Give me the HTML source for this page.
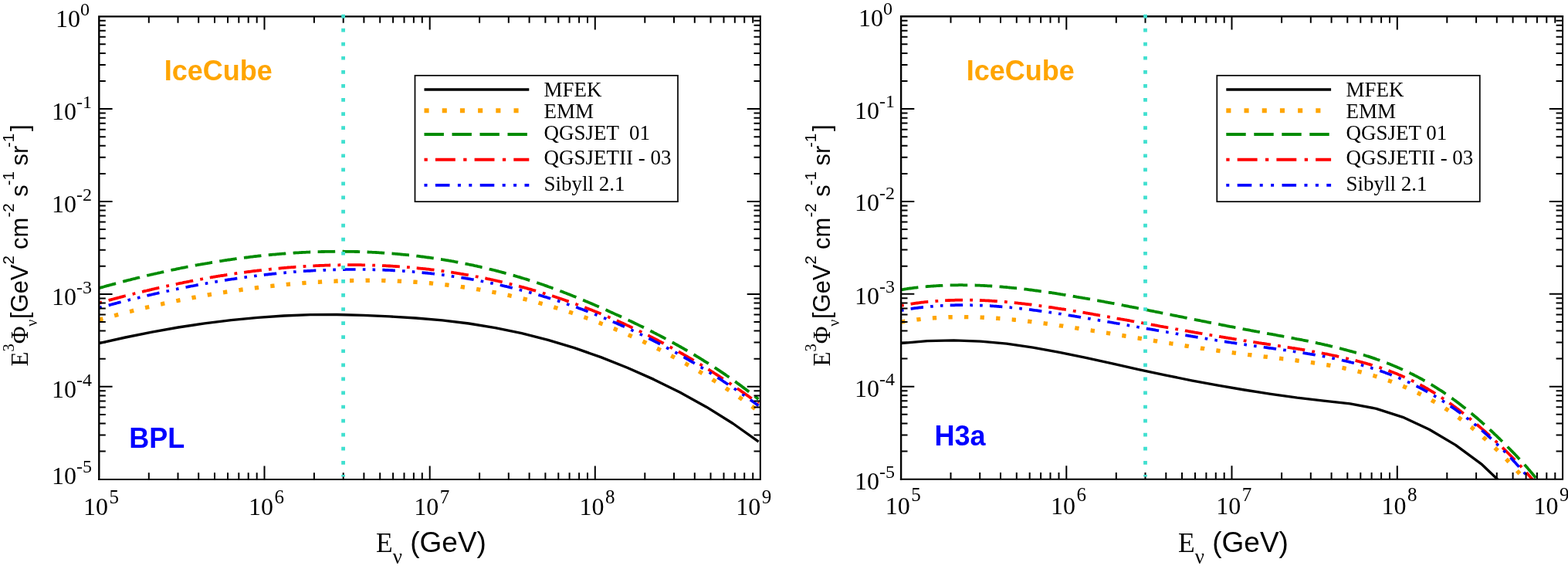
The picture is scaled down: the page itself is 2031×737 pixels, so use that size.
<!DOCTYPE html>
<html><head><meta charset="utf-8"><title>plot</title>
<style>html,body{margin:0;padding:0;background:#fff;overflow:hidden}svg{display:block}</style>
</head><body>
<svg width="2031" height="737" viewBox="0 0 2031 737">
<rect width="2031" height="737" fill="#fff"/>
<defs>
<clipPath id="clipL"><rect x="128.3" y="21.2" width="856.7" height="599.5"/></clipPath>
<clipPath id="clipR"><rect x="1167.0" y="21.2" width="857.0999999999999" height="599.4"/></clipPath>
</defs>
<path d="M128.3,444.7 L162.5,437.0 L196.7,430.1 L230.9,424.0 L265.1,418.9 L299.4,414.6 L333.6,411.3 L367.8,409.0 L402.0,407.7 L436.2,407.5 L470.4,408.3 L504.6,409.9 L538.8,412.0 L573.0,414.8 L607.2,419.0 L641.5,424.6 L675.7,431.7 L709.9,440.4 L744.1,450.7 L778.3,462.6 L812.5,476.2 L846.7,491.4 L880.9,508.3 L915.1,527.2 L949.3,548.5 L982.6,572.1" fill="none" stroke="#000000" stroke-width="3.35" stroke-linejoin="round" clip-path="url(#clipL)"/>
<path d="M128.3,414.3 L129.8,413.9 L131.3,413.4 L132.8,413.0 L134.3,412.6 L135.8,412.2 L137.3,411.8 L138.8,411.3 L140.3,410.9 L141.8,410.5 L143.3,410.1 L144.8,409.7 L146.3,409.3 L147.8,408.9 L149.3,408.5 L150.8,408.1 L152.3,407.7 L153.8,407.3 L155.3,406.9 L156.8,406.5 L158.3,406.1 L159.8,405.7 L161.3,405.3 L162.8,404.9 L164.3,404.5 L165.8,404.1 L167.3,403.7 L168.8,403.4 L170.3,403.0 L171.8,402.6 L173.3,402.2 L174.8,401.9 L176.3,401.5 L177.8,401.1 L179.3,400.7 L180.8,400.4 L182.3,400.0 L183.8,399.6 L185.3,399.3 L186.8,398.9 L188.3,398.6 L189.9,398.2 L191.4,397.9 L192.9,397.5 L194.4,397.2 L195.9,396.8 L197.4,396.5 L198.9,396.1 L200.4,395.8 L201.9,395.4 L203.4,395.1 L204.9,394.8 L206.4,394.4 L207.9,394.1 L209.4,393.8 L210.9,393.4 L212.4,393.1 L213.9,392.8 L215.4,392.5 L216.9,392.1 L218.4,391.8 L219.9,391.5 L221.4,391.2 L222.9,390.9 L224.4,390.6 L225.9,390.2 L227.4,389.9 L228.9,389.6 L230.4,389.3 L231.9,389.0 L233.4,388.7 L234.9,388.4 L236.4,388.1 L237.9,387.8 L239.4,387.5 L240.9,387.2 L242.4,386.9 L243.9,386.7 L245.4,386.4 L246.9,386.1 L248.4,385.8 L249.9,385.5 L251.4,385.2 L252.9,385.0 L254.4,384.7 L255.9,384.4 L257.4,384.1 L258.9,383.9 L260.4,383.6 L261.9,383.3 L263.4,383.1 L264.9,382.8 L266.4,382.5 L267.9,382.3 L269.4,382.0 L270.9,381.8 L272.4,381.5 L273.9,381.2 L275.4,381.0 L276.9,380.7 L278.4,380.5 L279.9,380.2 L281.4,380.0 L282.9,379.8 L284.4,379.5 L285.9,379.3 L287.4,379.0 L288.9,378.8 L290.4,378.6 L291.9,378.3 L293.4,378.1 L294.9,377.9 L296.4,377.6 L297.9,377.4 L299.4,377.2 L300.9,377.0 L302.4,376.7 L303.9,376.5 L305.4,376.3 L306.9,376.1 L308.4,375.9 L309.9,375.7 L311.5,375.5 L313.0,375.2 L314.5,375.0 L316.0,374.8 L317.5,374.6 L319.0,374.4 L320.5,374.2 L322.0,374.0 L323.5,373.8 L325.0,373.6 L326.5,373.4 L328.0,373.2 L329.5,373.1 L331.0,372.9 L332.5,372.7 L334.0,372.5 L335.5,372.3 L337.0,372.1 L338.5,372.0 L340.0,371.8 L341.5,371.6 L343.0,371.4 L344.5,371.2 L346.0,371.1 L347.5,370.9 L349.0,370.7 L350.5,370.6 L352.0,370.4 L353.5,370.2 L355.0,370.1 L356.5,369.9 L358.0,369.8 L359.5,369.6 L361.0,369.5 L362.5,369.3 L364.0,369.1 L365.5,369.0 L367.0,368.8 L368.5,368.7 L370.0,368.6 L371.5,368.4 L373.0,368.3 L374.5,368.1 L376.0,368.0 L377.5,367.9 L379.0,367.7 L380.5,367.6 L382.0,367.5 L383.5,367.3 L385.0,367.2 L386.5,367.1 L388.0,367.0 L389.5,366.8 L391.0,366.7 L392.5,366.6 L394.0,366.5 L395.5,366.4 L397.0,366.3 L398.5,366.2 L400.0,366.0 L401.5,365.9 L403.0,365.8 L404.5,365.7 L406.0,365.6 L407.5,365.5 L409.0,365.4 L410.5,365.3 L412.0,365.3 L413.5,365.2 L415.0,365.1 L416.5,365.0 L418.0,364.9 L419.5,364.8 L421.0,364.7 L422.5,364.7 L424.0,364.6 L425.5,364.5 L427.0,364.4 L428.5,364.4 L430.0,364.3 L431.5,364.2 L433.0,364.2 L434.6,364.1 L436.1,364.0 L437.6,364.0 L439.1,363.9 L440.6,363.9 L442.1,363.8 L443.6,363.8 L445.1,363.7 L446.6,363.7 L448.1,363.6 L449.6,363.6 L451.1,363.6 L452.6,363.5 L454.1,363.5 L455.6,363.5 L457.1,363.4 L458.6,363.4 L460.1,363.4 L461.6,363.4 L463.1,363.3 L464.6,363.3 L466.1,363.3 L467.6,363.3 L469.1,363.3 L470.6,363.3 L472.1,363.3 L473.6,363.2 L475.1,363.2 L476.6,363.2 L478.1,363.2 L479.6,363.2 L481.1,363.3 L482.6,363.3 L484.1,363.3 L485.6,363.3 L487.1,363.3 L488.6,363.3 L490.1,363.3 L491.6,363.4 L493.1,363.4 L494.6,363.4 L496.1,363.4 L497.6,363.5 L499.1,363.5 L500.6,363.6 L502.1,363.6 L503.6,363.6 L505.1,363.7 L506.6,363.7 L508.1,363.8 L509.6,363.8 L511.1,363.9 L512.6,363.9 L514.1,364.0 L515.6,364.1 L517.1,364.1 L518.6,364.2 L520.1,364.3 L521.6,364.3 L523.1,364.4 L524.6,364.5 L526.1,364.6 L527.6,364.6 L529.1,364.7 L530.6,364.8 L532.1,364.9 L533.6,365.0 L535.1,365.1 L536.6,365.2 L538.1,365.3 L539.6,365.4 L541.1,365.5 L542.6,365.6 L544.1,365.7 L545.6,365.8 L547.1,366.0 L548.6,366.1 L550.1,366.2 L551.6,366.3 L553.1,366.4 L554.6,366.6 L556.2,366.7 L557.7,366.8 L559.2,367.0 L560.7,367.1 L562.2,367.3 L563.7,367.4 L565.2,367.6 L566.7,367.7 L568.2,367.9 L569.7,368.0 L571.2,368.2 L572.7,368.3 L574.2,368.5 L575.7,368.7 L577.2,368.9 L578.7,369.0 L580.2,369.2 L581.7,369.4 L583.2,369.6 L584.7,369.8 L586.2,369.9 L587.7,370.1 L589.2,370.3 L590.7,370.5 L592.2,370.7 L593.7,370.9 L595.2,371.1 L596.7,371.3 L598.2,371.6 L599.7,371.8 L601.2,372.0 L602.7,372.2 L604.2,372.4 L605.7,372.7 L607.2,372.9 L608.7,373.1 L610.2,373.3 L611.7,373.6 L613.2,373.8 L614.7,374.1 L616.2,374.3 L617.7,374.6 L619.2,374.8 L620.7,375.1 L622.2,375.3 L623.7,375.6 L625.2,375.8 L626.7,376.1 L628.2,376.4 L629.7,376.7 L631.2,376.9 L632.7,377.2 L634.2,377.5 L635.7,377.8 L637.2,378.1 L638.7,378.4 L640.2,378.6 L641.7,378.9 L643.2,379.2 L644.7,379.5 L646.2,379.9 L647.7,380.2 L649.2,380.5 L650.7,380.8 L652.2,381.1 L653.7,381.4 L655.2,381.7 L656.7,382.1 L658.2,382.4 L659.7,382.7 L661.2,383.1 L662.7,383.4 L664.2,383.8 L665.7,384.1 L667.2,384.4 L668.7,384.8 L670.2,385.1 L671.7,385.5 L673.2,385.9 L674.7,386.2 L676.2,386.6 L677.8,387.0 L679.3,387.3 L680.8,387.7 L682.3,388.1 L683.8,388.5 L685.3,388.9 L686.8,389.2 L688.3,389.6 L689.8,390.0 L691.3,390.4 L692.8,390.8 L694.3,391.2 L695.8,391.6 L697.3,392.0 L698.8,392.5 L700.3,392.9 L701.8,393.3 L703.3,393.7 L704.8,394.1 L706.3,394.6 L707.8,395.0 L709.3,395.4 L710.8,395.9 L712.3,396.3 L713.8,396.7 L715.3,397.2 L716.8,397.6 L718.3,398.1 L719.8,398.6 L721.3,399.0 L722.8,399.5 L724.3,399.9 L725.8,400.4 L727.3,400.9 L728.8,401.4 L730.3,401.8 L731.8,402.3 L733.3,402.8 L734.8,403.3 L736.3,403.8 L737.8,404.3 L739.3,404.8 L740.8,405.3 L742.3,405.8 L743.8,406.3 L745.3,406.8 L746.8,407.3 L748.3,407.8 L749.8,408.4 L751.3,408.9 L752.8,409.4 L754.3,409.9 L755.8,410.5 L757.3,411.0 L758.8,411.5 L760.3,412.1 L761.8,412.6 L763.3,413.2 L764.8,413.7 L766.3,414.3 L767.8,414.9 L769.3,415.4 L770.8,416.0 L772.3,416.6 L773.8,417.1 L775.3,417.7 L776.8,418.3 L778.3,418.9 L779.8,419.5 L781.3,420.0 L782.8,420.6 L784.3,421.2 L785.8,421.8 L787.3,422.4 L788.8,423.0 L790.3,423.6 L791.8,424.3 L793.3,424.9 L794.8,425.5 L796.3,426.1 L797.8,426.7 L799.3,427.4 L800.9,428.0 L802.4,428.6 L803.9,429.3 L805.4,429.9 L806.9,430.6 L808.4,431.2 L809.9,431.9 L811.4,432.5 L812.9,433.2 L814.4,433.9 L815.9,434.5 L817.4,435.2 L818.9,435.9 L820.4,436.5 L821.9,437.2 L823.4,437.9 L824.9,438.6 L826.4,439.3 L827.9,440.0 L829.4,440.7 L830.9,441.4 L832.4,442.1 L833.9,442.8 L835.4,443.5 L836.9,444.2 L838.4,445.0 L839.9,445.7 L841.4,446.4 L842.9,447.1 L844.4,447.9 L845.9,448.6 L847.4,449.4 L848.9,450.1 L850.4,450.9 L851.9,451.6 L853.4,452.4 L854.9,453.1 L856.4,453.9 L857.9,454.7 L859.4,455.4 L860.9,456.2 L862.4,457.0 L863.9,457.8 L865.4,458.6 L866.9,459.4 L868.4,460.2 L869.9,461.0 L871.4,461.8 L872.9,462.6 L874.4,463.4 L875.9,464.2 L877.4,465.0 L878.9,465.8 L880.4,466.7 L881.9,467.5 L883.4,468.3 L884.9,469.2 L886.4,470.0 L887.9,470.8 L889.4,471.7 L890.9,472.6 L892.4,473.4 L893.9,474.3 L895.4,475.1 L896.9,476.0 L898.4,476.9 L899.9,477.8 L901.4,478.6 L902.9,479.5 L904.4,480.4 L905.9,481.3 L907.4,482.2 L908.9,483.1 L910.4,484.0 L911.9,484.9 L913.4,485.9 L914.9,486.8 L916.4,487.7 L917.9,488.6 L919.4,489.6 L920.9,490.5 L922.5,491.4 L924.0,492.4 L925.5,493.3 L927.0,494.3 L928.5,495.2 L930.0,496.2 L931.5,497.2 L933.0,498.1 L934.5,499.1 L936.0,500.1 L937.5,501.1 L939.0,502.1 L940.5,503.1 L942.0,504.0 L943.5,505.1 L945.0,506.1 L946.5,507.1 L948.0,508.1 L949.5,509.1 L951.0,510.1 L952.5,511.1 L954.0,512.2 L955.5,513.2 L957.0,514.3 L958.5,515.3 L960.0,516.3 L961.5,517.4 L963.0,518.5 L964.5,519.5 L966.0,520.6 L967.5,521.7 L969.0,522.7 L970.5,523.8 L972.0,524.9 L973.5,526.0 L975.0,527.1 L976.5,528.2 L978.0,529.3 L979.5,530.4 L981.0,531.5 L982.5,532.6" fill="none" stroke="#FFA500" stroke-width="5.4" stroke-linejoin="round" stroke-dasharray="5.3 15.3" clip-path="url(#clipL)"/>
<path d="M128.3,373.2 L129.8,372.7 L131.3,372.3 L132.8,371.9 L134.3,371.5 L135.8,371.0 L137.3,370.6 L138.8,370.2 L140.3,369.8 L141.8,369.4 L143.3,369.0 L144.8,368.6 L146.3,368.2 L147.8,367.8 L149.3,367.4 L150.8,367.0 L152.3,366.6 L153.8,366.2 L155.3,365.8 L156.8,365.4 L158.3,365.0 L159.8,364.6 L161.3,364.2 L162.8,363.8 L164.3,363.4 L165.8,363.0 L167.3,362.6 L168.8,362.3 L170.3,361.9 L171.8,361.5 L173.3,361.1 L174.8,360.8 L176.3,360.4 L177.8,360.0 L179.3,359.6 L180.8,359.3 L182.3,358.9 L183.8,358.5 L185.3,358.2 L186.8,357.8 L188.3,357.5 L189.9,357.1 L191.4,356.7 L192.9,356.4 L194.4,356.0 L195.9,355.7 L197.4,355.3 L198.9,355.0 L200.4,354.7 L201.9,354.3 L203.4,354.0 L204.9,353.6 L206.4,353.3 L207.9,353.0 L209.4,352.6 L210.9,352.3 L212.4,352.0 L213.9,351.6 L215.4,351.3 L216.9,351.0 L218.4,350.7 L219.9,350.3 L221.4,350.0 L222.9,349.7 L224.4,349.4 L225.9,349.1 L227.4,348.8 L228.9,348.4 L230.4,348.1 L231.9,347.8 L233.4,347.5 L234.9,347.2 L236.4,346.9 L237.9,346.6 L239.4,346.3 L240.9,346.0 L242.4,345.7 L243.9,345.5 L245.4,345.2 L246.9,344.9 L248.4,344.6 L249.9,344.3 L251.4,344.0 L252.9,343.7 L254.4,343.5 L255.9,343.2 L257.4,342.9 L258.9,342.7 L260.4,342.4 L261.9,342.1 L263.4,341.8 L264.9,341.6 L266.4,341.3 L267.9,341.1 L269.4,340.8 L270.9,340.6 L272.4,340.3 L273.9,340.0 L275.4,339.8 L276.9,339.6 L278.4,339.3 L279.9,339.1 L281.4,338.8 L282.9,338.6 L284.4,338.3 L285.9,338.1 L287.4,337.9 L288.9,337.6 L290.4,337.4 L291.9,337.2 L293.4,337.0 L294.9,336.7 L296.4,336.5 L297.9,336.3 L299.4,336.1 L300.9,335.9 L302.4,335.7 L303.9,335.5 L305.4,335.2 L306.9,335.0 L308.4,334.8 L309.9,334.6 L311.5,334.4 L313.0,334.2 L314.5,334.0 L316.0,333.8 L317.5,333.7 L319.0,333.5 L320.5,333.3 L322.0,333.1 L323.5,332.9 L325.0,332.7 L326.5,332.6 L328.0,332.4 L329.5,332.2 L331.0,332.0 L332.5,331.9 L334.0,331.7 L335.5,331.5 L337.0,331.4 L338.5,331.2 L340.0,331.1 L341.5,330.9 L343.0,330.7 L344.5,330.6 L346.0,330.4 L347.5,330.3 L349.0,330.1 L350.5,330.0 L352.0,329.9 L353.5,329.7 L355.0,329.6 L356.5,329.5 L358.0,329.3 L359.5,329.2 L361.0,329.1 L362.5,328.9 L364.0,328.8 L365.5,328.7 L367.0,328.6 L368.5,328.5 L370.0,328.4 L371.5,328.2 L373.0,328.1 L374.5,328.0 L376.0,327.9 L377.5,327.8 L379.0,327.7 L380.5,327.6 L382.0,327.5 L383.5,327.4 L385.0,327.4 L386.5,327.3 L388.0,327.2 L389.5,327.1 L391.0,327.0 L392.5,326.9 L394.0,326.9 L395.5,326.8 L397.0,326.7 L398.5,326.7 L400.0,326.6 L401.5,326.5 L403.0,326.5 L404.5,326.4 L406.0,326.4 L407.5,326.3 L409.0,326.2 L410.5,326.2 L412.0,326.2 L413.5,326.1 L415.0,326.1 L416.5,326.0 L418.0,326.0 L419.5,326.0 L421.0,325.9 L422.5,325.9 L424.0,325.9 L425.5,325.8 L427.0,325.8 L428.5,325.8 L430.0,325.8 L431.5,325.8 L433.0,325.8 L434.6,325.7 L436.1,325.7 L437.6,325.7 L439.1,325.7 L440.6,325.7 L442.1,325.7 L443.6,325.7 L445.1,325.7 L446.6,325.8 L448.1,325.8 L449.6,325.8 L451.1,325.8 L452.6,325.8 L454.1,325.9 L455.6,325.9 L457.1,325.9 L458.6,325.9 L460.1,326.0 L461.6,326.0 L463.1,326.0 L464.6,326.1 L466.1,326.1 L467.6,326.2 L469.1,326.2 L470.6,326.3 L472.1,326.3 L473.6,326.4 L475.1,326.4 L476.6,326.5 L478.1,326.6 L479.6,326.6 L481.1,326.7 L482.6,326.8 L484.1,326.9 L485.6,326.9 L487.1,327.0 L488.6,327.1 L490.1,327.2 L491.6,327.3 L493.1,327.4 L494.6,327.5 L496.1,327.6 L497.6,327.7 L499.1,327.8 L500.6,327.9 L502.1,328.0 L503.6,328.1 L505.1,328.2 L506.6,328.3 L508.1,328.4 L509.6,328.6 L511.1,328.7 L512.6,328.8 L514.1,328.9 L515.6,329.1 L517.1,329.2 L518.6,329.3 L520.1,329.5 L521.6,329.6 L523.1,329.8 L524.6,329.9 L526.1,330.1 L527.6,330.2 L529.1,330.4 L530.6,330.5 L532.1,330.7 L533.6,330.9 L535.1,331.0 L536.6,331.2 L538.1,331.4 L539.6,331.6 L541.1,331.7 L542.6,331.9 L544.1,332.1 L545.6,332.3 L547.1,332.5 L548.6,332.7 L550.1,332.9 L551.6,333.1 L553.1,333.3 L554.6,333.5 L556.2,333.7 L557.7,333.9 L559.2,334.1 L560.7,334.3 L562.2,334.5 L563.7,334.8 L565.2,335.0 L566.7,335.2 L568.2,335.4 L569.7,335.7 L571.2,335.9 L572.7,336.2 L574.2,336.4 L575.7,336.6 L577.2,336.9 L578.7,337.1 L580.2,337.4 L581.7,337.7 L583.2,337.9 L584.7,338.2 L586.2,338.4 L587.7,338.7 L589.2,339.0 L590.7,339.3 L592.2,339.5 L593.7,339.8 L595.2,340.1 L596.7,340.4 L598.2,340.7 L599.7,341.0 L601.2,341.3 L602.7,341.6 L604.2,341.9 L605.7,342.2 L607.2,342.5 L608.7,342.8 L610.2,343.1 L611.7,343.4 L613.2,343.7 L614.7,344.1 L616.2,344.4 L617.7,344.7 L619.2,345.1 L620.7,345.4 L622.2,345.7 L623.7,346.1 L625.2,346.4 L626.7,346.8 L628.2,347.1 L629.7,347.5 L631.2,347.8 L632.7,348.2 L634.2,348.6 L635.7,348.9 L637.2,349.3 L638.7,349.7 L640.2,350.0 L641.7,350.4 L643.2,350.8 L644.7,351.2 L646.2,351.6 L647.7,352.0 L649.2,352.4 L650.7,352.8 L652.2,353.2 L653.7,353.6 L655.2,354.0 L656.7,354.4 L658.2,354.8 L659.7,355.2 L661.2,355.7 L662.7,356.1 L664.2,356.5 L665.7,356.9 L667.2,357.4 L668.7,357.8 L670.2,358.3 L671.7,358.7 L673.2,359.1 L674.7,359.6 L676.2,360.1 L677.8,360.5 L679.3,361.0 L680.8,361.4 L682.3,361.9 L683.8,362.4 L685.3,362.9 L686.8,363.3 L688.3,363.8 L689.8,364.3 L691.3,364.8 L692.8,365.3 L694.3,365.8 L695.8,366.3 L697.3,366.8 L698.8,367.3 L700.3,367.8 L701.8,368.3 L703.3,368.8 L704.8,369.3 L706.3,369.9 L707.8,370.4 L709.3,370.9 L710.8,371.5 L712.3,372.0 L713.8,372.5 L715.3,373.1 L716.8,373.6 L718.3,374.2 L719.8,374.7 L721.3,375.3 L722.8,375.8 L724.3,376.4 L725.8,377.0 L727.3,377.5 L728.8,378.1 L730.3,378.7 L731.8,379.3 L733.3,379.8 L734.8,380.4 L736.3,381.0 L737.8,381.6 L739.3,382.2 L740.8,382.8 L742.3,383.4 L743.8,384.0 L745.3,384.6 L746.8,385.2 L748.3,385.8 L749.8,386.4 L751.3,387.0 L752.8,387.7 L754.3,388.3 L755.8,388.9 L757.3,389.5 L758.8,390.2 L760.3,390.8 L761.8,391.4 L763.3,392.1 L764.8,392.7 L766.3,393.3 L767.8,394.0 L769.3,394.6 L770.8,395.3 L772.3,395.9 L773.8,396.6 L775.3,397.2 L776.8,397.9 L778.3,398.5 L779.8,399.2 L781.3,399.9 L782.8,400.5 L784.3,401.2 L785.8,401.8 L787.3,402.5 L788.8,403.2 L790.3,403.9 L791.8,404.5 L793.3,405.2 L794.8,405.9 L796.3,406.6 L797.8,407.3 L799.3,407.9 L800.9,408.6 L802.4,409.3 L803.9,410.0 L805.4,410.7 L806.9,411.4 L808.4,412.1 L809.9,412.8 L811.4,413.5 L812.9,414.2 L814.4,414.9 L815.9,415.6 L817.4,416.3 L818.9,417.0 L820.4,417.7 L821.9,418.5 L823.4,419.2 L824.9,419.9 L826.4,420.6 L827.9,421.4 L829.4,422.1 L830.9,422.8 L832.4,423.5 L833.9,424.3 L835.4,425.0 L836.9,425.8 L838.4,426.5 L839.9,427.3 L841.4,428.0 L842.9,428.8 L844.4,429.5 L845.9,430.3 L847.4,431.1 L848.9,431.8 L850.4,432.6 L851.9,433.4 L853.4,434.1 L854.9,434.9 L856.4,435.7 L857.9,436.5 L859.4,437.3 L860.9,438.1 L862.4,438.9 L863.9,439.7 L865.4,440.5 L866.9,441.3 L868.4,442.1 L869.9,442.9 L871.4,443.7 L872.9,444.5 L874.4,445.4 L875.9,446.2 L877.4,447.0 L878.9,447.9 L880.4,448.7 L881.9,449.5 L883.4,450.4 L884.9,451.2 L886.4,452.1 L887.9,453.0 L889.4,453.8 L890.9,454.7 L892.4,455.6 L893.9,456.4 L895.4,457.3 L896.9,458.2 L898.4,459.1 L899.9,460.0 L901.4,460.9 L902.9,461.8 L904.4,462.7 L905.9,463.6 L907.4,464.5 L908.9,465.5 L910.4,466.4 L911.9,467.3 L913.4,468.3 L914.9,469.2 L916.4,470.1 L917.9,471.1 L919.4,472.1 L920.9,473.0 L922.5,474.0 L924.0,474.9 L925.5,475.9 L927.0,476.9 L928.5,477.9 L930.0,478.9 L931.5,479.9 L933.0,480.9 L934.5,481.9 L936.0,482.9 L937.5,483.9 L939.0,484.9 L940.5,486.0 L942.0,487.0 L943.5,488.0 L945.0,489.1 L946.5,490.1 L948.0,491.2 L949.5,492.3 L951.0,493.3 L952.5,494.4 L954.0,495.5 L955.5,496.6 L957.0,497.6 L958.5,498.7 L960.0,499.8 L961.5,501.0 L963.0,502.1 L964.5,503.2 L966.0,504.3 L967.5,505.5 L969.0,506.6 L970.5,507.7 L972.0,508.9 L973.5,510.0 L975.0,511.2 L976.5,512.4 L978.0,513.6 L979.5,514.7 L981.0,515.9 L982.5,517.1" fill="none" stroke="#008B00" stroke-width="3.8" stroke-linejoin="round" stroke-dasharray="22.6 9.4" clip-path="url(#clipL)"/>
<path d="M128.3,392.4 L129.8,392.0 L131.3,391.6 L132.8,391.2 L134.3,390.7 L135.8,390.3 L137.3,389.9 L138.8,389.5 L140.3,389.1 L141.8,388.7 L143.3,388.3 L144.8,387.9 L146.3,387.5 L147.8,387.1 L149.3,386.7 L150.8,386.3 L152.3,385.9 L153.8,385.5 L155.3,385.1 L156.8,384.7 L158.3,384.3 L159.8,383.9 L161.3,383.5 L162.8,383.2 L164.3,382.8 L165.8,382.4 L167.3,382.0 L168.8,381.6 L170.3,381.2 L171.8,380.9 L173.3,380.5 L174.8,380.1 L176.3,379.8 L177.8,379.4 L179.3,379.0 L180.8,378.6 L182.3,378.3 L183.8,377.9 L185.3,377.6 L186.8,377.2 L188.3,376.8 L189.9,376.5 L191.4,376.1 L192.9,375.8 L194.4,375.4 L195.9,375.1 L197.4,374.7 L198.9,374.4 L200.4,374.0 L201.9,373.7 L203.4,373.3 L204.9,373.0 L206.4,372.7 L207.9,372.3 L209.4,372.0 L210.9,371.7 L212.4,371.3 L213.9,371.0 L215.4,370.7 L216.9,370.3 L218.4,370.0 L219.9,369.7 L221.4,369.4 L222.9,369.1 L224.4,368.7 L225.9,368.4 L227.4,368.1 L228.9,367.8 L230.4,367.5 L231.9,367.2 L233.4,366.9 L234.9,366.6 L236.4,366.3 L237.9,365.9 L239.4,365.6 L240.9,365.4 L242.4,365.1 L243.9,364.8 L245.4,364.5 L246.9,364.2 L248.4,363.9 L249.9,363.6 L251.4,363.3 L252.9,363.0 L254.4,362.7 L255.9,362.5 L257.4,362.2 L258.9,361.9 L260.4,361.6 L261.9,361.4 L263.4,361.1 L264.9,360.8 L266.4,360.5 L267.9,360.3 L269.4,360.0 L270.9,359.8 L272.4,359.5 L273.9,359.2 L275.4,359.0 L276.9,358.7 L278.4,358.5 L279.9,358.2 L281.4,358.0 L282.9,357.7 L284.4,357.5 L285.9,357.2 L287.4,357.0 L288.9,356.8 L290.4,356.5 L291.9,356.3 L293.4,356.0 L294.9,355.8 L296.4,355.6 L297.9,355.4 L299.4,355.1 L300.9,354.9 L302.4,354.7 L303.9,354.5 L305.4,354.2 L306.9,354.0 L308.4,353.8 L309.9,353.6 L311.5,353.4 L313.0,353.2 L314.5,353.0 L316.0,352.8 L317.5,352.6 L319.0,352.4 L320.5,352.2 L322.0,352.0 L323.5,351.8 L325.0,351.6 L326.5,351.4 L328.0,351.2 L329.5,351.0 L331.0,350.8 L332.5,350.7 L334.0,350.5 L335.5,350.3 L337.0,350.1 L338.5,350.0 L340.0,349.8 L341.5,349.6 L343.0,349.4 L344.5,349.3 L346.0,349.1 L347.5,349.0 L349.0,348.8 L350.5,348.6 L352.0,348.5 L353.5,348.3 L355.0,348.2 L356.5,348.0 L358.0,347.9 L359.5,347.7 L361.0,347.6 L362.5,347.5 L364.0,347.3 L365.5,347.2 L367.0,347.1 L368.5,346.9 L370.0,346.8 L371.5,346.7 L373.0,346.5 L374.5,346.4 L376.0,346.3 L377.5,346.2 L379.0,346.1 L380.5,346.0 L382.0,345.8 L383.5,345.7 L385.0,345.6 L386.5,345.5 L388.0,345.4 L389.5,345.3 L391.0,345.2 L392.5,345.1 L394.0,345.0 L395.5,344.9 L397.0,344.8 L398.5,344.8 L400.0,344.7 L401.5,344.6 L403.0,344.5 L404.5,344.4 L406.0,344.4 L407.5,344.3 L409.0,344.2 L410.5,344.1 L412.0,344.1 L413.5,344.0 L415.0,343.9 L416.5,343.9 L418.0,343.8 L419.5,343.8 L421.0,343.7 L422.5,343.7 L424.0,343.6 L425.5,343.6 L427.0,343.5 L428.5,343.5 L430.0,343.4 L431.5,343.4 L433.0,343.4 L434.6,343.3 L436.1,343.3 L437.6,343.3 L439.1,343.3 L440.6,343.2 L442.1,343.2 L443.6,343.2 L445.1,343.2 L446.6,343.2 L448.1,343.2 L449.6,343.1 L451.1,343.1 L452.6,343.1 L454.1,343.1 L455.6,343.1 L457.1,343.1 L458.6,343.1 L460.1,343.2 L461.6,343.2 L463.1,343.2 L464.6,343.2 L466.1,343.2 L467.6,343.2 L469.1,343.3 L470.6,343.3 L472.1,343.3 L473.6,343.3 L475.1,343.4 L476.6,343.4 L478.1,343.4 L479.6,343.5 L481.1,343.5 L482.6,343.6 L484.1,343.6 L485.6,343.7 L487.1,343.7 L488.6,343.8 L490.1,343.8 L491.6,343.9 L493.1,344.0 L494.6,344.0 L496.1,344.1 L497.6,344.2 L499.1,344.2 L500.6,344.3 L502.1,344.4 L503.6,344.5 L505.1,344.5 L506.6,344.6 L508.1,344.7 L509.6,344.8 L511.1,344.9 L512.6,345.0 L514.1,345.1 L515.6,345.2 L517.1,345.3 L518.6,345.4 L520.1,345.5 L521.6,345.6 L523.1,345.7 L524.6,345.9 L526.1,346.0 L527.6,346.1 L529.1,346.2 L530.6,346.3 L532.1,346.5 L533.6,346.6 L535.1,346.7 L536.6,346.9 L538.1,347.0 L539.6,347.2 L541.1,347.3 L542.6,347.5 L544.1,347.6 L545.6,347.8 L547.1,347.9 L548.6,348.1 L550.1,348.2 L551.6,348.4 L553.1,348.6 L554.6,348.7 L556.2,348.9 L557.7,349.1 L559.2,349.3 L560.7,349.4 L562.2,349.6 L563.7,349.8 L565.2,350.0 L566.7,350.2 L568.2,350.4 L569.7,350.6 L571.2,350.8 L572.7,351.0 L574.2,351.2 L575.7,351.4 L577.2,351.6 L578.7,351.8 L580.2,352.0 L581.7,352.3 L583.2,352.5 L584.7,352.7 L586.2,352.9 L587.7,353.2 L589.2,353.4 L590.7,353.6 L592.2,353.9 L593.7,354.1 L595.2,354.3 L596.7,354.6 L598.2,354.8 L599.7,355.1 L601.2,355.4 L602.7,355.6 L604.2,355.9 L605.7,356.1 L607.2,356.4 L608.7,356.7 L610.2,356.9 L611.7,357.2 L613.2,357.5 L614.7,357.8 L616.2,358.1 L617.7,358.3 L619.2,358.6 L620.7,358.9 L622.2,359.2 L623.7,359.5 L625.2,359.8 L626.7,360.1 L628.2,360.4 L629.7,360.7 L631.2,361.1 L632.7,361.4 L634.2,361.7 L635.7,362.0 L637.2,362.3 L638.7,362.7 L640.2,363.0 L641.7,363.3 L643.2,363.7 L644.7,364.0 L646.2,364.3 L647.7,364.7 L649.2,365.0 L650.7,365.4 L652.2,365.7 L653.7,366.1 L655.2,366.5 L656.7,366.8 L658.2,367.2 L659.7,367.6 L661.2,367.9 L662.7,368.3 L664.2,368.7 L665.7,369.1 L667.2,369.4 L668.7,369.8 L670.2,370.2 L671.7,370.6 L673.2,371.0 L674.7,371.4 L676.2,371.8 L677.8,372.2 L679.3,372.6 L680.8,373.0 L682.3,373.4 L683.8,373.9 L685.3,374.3 L686.8,374.7 L688.3,375.1 L689.8,375.6 L691.3,376.0 L692.8,376.4 L694.3,376.9 L695.8,377.3 L697.3,377.8 L698.8,378.2 L700.3,378.7 L701.8,379.1 L703.3,379.6 L704.8,380.0 L706.3,380.5 L707.8,381.0 L709.3,381.4 L710.8,381.9 L712.3,382.4 L713.8,382.9 L715.3,383.3 L716.8,383.8 L718.3,384.3 L719.8,384.8 L721.3,385.3 L722.8,385.8 L724.3,386.3 L725.8,386.8 L727.3,387.3 L728.8,387.8 L730.3,388.3 L731.8,388.8 L733.3,389.4 L734.8,389.9 L736.3,390.4 L737.8,390.9 L739.3,391.5 L740.8,392.0 L742.3,392.5 L743.8,393.1 L745.3,393.6 L746.8,394.2 L748.3,394.7 L749.8,395.3 L751.3,395.8 L752.8,396.4 L754.3,397.0 L755.8,397.5 L757.3,398.1 L758.8,398.7 L760.3,399.3 L761.8,399.8 L763.3,400.4 L764.8,401.0 L766.3,401.6 L767.8,402.2 L769.3,402.8 L770.8,403.4 L772.3,404.0 L773.8,404.6 L775.3,405.2 L776.8,405.8 L778.3,406.4 L779.8,407.1 L781.3,407.7 L782.8,408.3 L784.3,408.9 L785.8,409.6 L787.3,410.2 L788.8,410.9 L790.3,411.5 L791.8,412.1 L793.3,412.8 L794.8,413.5 L796.3,414.1 L797.8,414.8 L799.3,415.4 L800.9,416.1 L802.4,416.8 L803.9,417.4 L805.4,418.1 L806.9,418.8 L808.4,419.5 L809.9,420.2 L811.4,420.9 L812.9,421.6 L814.4,422.3 L815.9,423.0 L817.4,423.7 L818.9,424.4 L820.4,425.1 L821.9,425.8 L823.4,426.5 L824.9,427.2 L826.4,427.9 L827.9,428.7 L829.4,429.4 L830.9,430.1 L832.4,430.9 L833.9,431.6 L835.4,432.4 L836.9,433.1 L838.4,433.9 L839.9,434.6 L841.4,435.4 L842.9,436.1 L844.4,436.9 L845.9,437.7 L847.4,438.5 L848.9,439.2 L850.4,440.0 L851.9,440.8 L853.4,441.6 L854.9,442.4 L856.4,443.2 L857.9,444.0 L859.4,444.8 L860.9,445.6 L862.4,446.4 L863.9,447.2 L865.4,448.0 L866.9,448.8 L868.4,449.6 L869.9,450.5 L871.4,451.3 L872.9,452.1 L874.4,453.0 L875.9,453.8 L877.4,454.6 L878.9,455.5 L880.4,456.3 L881.9,457.2 L883.4,458.0 L884.9,458.9 L886.4,459.8 L887.9,460.6 L889.4,461.5 L890.9,462.4 L892.4,463.3 L893.9,464.1 L895.4,465.0 L896.9,465.9 L898.4,466.8 L899.9,467.7 L901.4,468.6 L902.9,469.5 L904.4,470.4 L905.9,471.3 L907.4,472.2 L908.9,473.2 L910.4,474.1 L911.9,475.0 L913.4,475.9 L914.9,476.9 L916.4,477.8 L917.9,478.7 L919.4,479.7 L920.9,480.6 L922.5,481.6 L924.0,482.5 L925.5,483.5 L927.0,484.5 L928.5,485.4 L930.0,486.4 L931.5,487.4 L933.0,488.4 L934.5,489.3 L936.0,490.3 L937.5,491.3 L939.0,492.3 L940.5,493.3 L942.0,494.3 L943.5,495.3 L945.0,496.3 L946.5,497.3 L948.0,498.3 L949.5,499.3 L951.0,500.4 L952.5,501.4 L954.0,502.4 L955.5,503.5 L957.0,504.5 L958.5,505.5 L960.0,506.6 L961.5,507.6 L963.0,508.7 L964.5,509.7 L966.0,510.8 L967.5,511.9 L969.0,512.9 L970.5,514.0 L972.0,515.1 L973.5,516.1 L975.0,517.2 L976.5,518.3 L978.0,519.4 L979.5,520.5 L981.0,521.6 L982.5,522.7" fill="none" stroke="#FF0000" stroke-width="3.8" stroke-linejoin="round" stroke-dasharray="3.8 8.95 22.9 9.2" clip-path="url(#clipL)"/>
<path d="M128.3,398.7 L129.8,398.3 L131.3,397.9 L132.8,397.5 L134.3,397.1 L135.8,396.7 L137.3,396.3 L138.8,395.9 L140.3,395.5 L141.8,395.1 L143.3,394.7 L144.8,394.3 L146.3,393.9 L147.8,393.5 L149.3,393.1 L150.8,392.7 L152.3,392.3 L153.8,391.9 L155.3,391.5 L156.8,391.2 L158.3,390.8 L159.8,390.4 L161.3,390.0 L162.8,389.6 L164.3,389.3 L165.8,388.9 L167.3,388.5 L168.8,388.1 L170.3,387.8 L171.8,387.4 L173.3,387.0 L174.8,386.7 L176.3,386.3 L177.8,385.9 L179.3,385.6 L180.8,385.2 L182.3,384.8 L183.8,384.5 L185.3,384.1 L186.8,383.8 L188.3,383.4 L189.9,383.1 L191.4,382.7 L192.9,382.4 L194.4,382.0 L195.9,381.7 L197.4,381.3 L198.9,381.0 L200.4,380.6 L201.9,380.3 L203.4,380.0 L204.9,379.6 L206.4,379.3 L207.9,379.0 L209.4,378.6 L210.9,378.3 L212.4,378.0 L213.9,377.6 L215.4,377.3 L216.9,377.0 L218.4,376.7 L219.9,376.3 L221.4,376.0 L222.9,375.7 L224.4,375.4 L225.9,375.1 L227.4,374.8 L228.9,374.5 L230.4,374.1 L231.9,373.8 L233.4,373.5 L234.9,373.2 L236.4,372.9 L237.9,372.6 L239.4,372.3 L240.9,372.0 L242.4,371.7 L243.9,371.4 L245.4,371.1 L246.9,370.8 L248.4,370.5 L249.9,370.3 L251.4,370.0 L252.9,369.7 L254.4,369.4 L255.9,369.1 L257.4,368.8 L258.9,368.6 L260.4,368.3 L261.9,368.0 L263.4,367.7 L264.9,367.5 L266.4,367.2 L267.9,366.9 L269.4,366.7 L270.9,366.4 L272.4,366.1 L273.9,365.9 L275.4,365.6 L276.9,365.4 L278.4,365.1 L279.9,364.9 L281.4,364.6 L282.9,364.4 L284.4,364.1 L285.9,363.9 L287.4,363.6 L288.9,363.4 L290.4,363.1 L291.9,362.9 L293.4,362.7 L294.9,362.4 L296.4,362.2 L297.9,362.0 L299.4,361.7 L300.9,361.5 L302.4,361.3 L303.9,361.1 L305.4,360.8 L306.9,360.6 L308.4,360.4 L309.9,360.2 L311.5,360.0 L313.0,359.7 L314.5,359.5 L316.0,359.3 L317.5,359.1 L319.0,358.9 L320.5,358.7 L322.0,358.5 L323.5,358.3 L325.0,358.1 L326.5,357.9 L328.0,357.7 L329.5,357.5 L331.0,357.3 L332.5,357.2 L334.0,357.0 L335.5,356.8 L337.0,356.6 L338.5,356.4 L340.0,356.3 L341.5,356.1 L343.0,355.9 L344.5,355.7 L346.0,355.6 L347.5,355.4 L349.0,355.2 L350.5,355.1 L352.0,354.9 L353.5,354.7 L355.0,354.6 L356.5,354.4 L358.0,354.3 L359.5,354.1 L361.0,354.0 L362.5,353.8 L364.0,353.7 L365.5,353.5 L367.0,353.4 L368.5,353.3 L370.0,353.1 L371.5,353.0 L373.0,352.9 L374.5,352.7 L376.0,352.6 L377.5,352.5 L379.0,352.4 L380.5,352.2 L382.0,352.1 L383.5,352.0 L385.0,351.9 L386.5,351.8 L388.0,351.7 L389.5,351.5 L391.0,351.4 L392.5,351.3 L394.0,351.2 L395.5,351.1 L397.0,351.0 L398.5,350.9 L400.0,350.8 L401.5,350.8 L403.0,350.7 L404.5,350.6 L406.0,350.5 L407.5,350.4 L409.0,350.3 L410.5,350.3 L412.0,350.2 L413.5,350.1 L415.0,350.0 L416.5,350.0 L418.0,349.9 L419.5,349.8 L421.0,349.8 L422.5,349.7 L424.0,349.7 L425.5,349.6 L427.0,349.5 L428.5,349.5 L430.0,349.4 L431.5,349.4 L433.0,349.4 L434.6,349.3 L436.1,349.3 L437.6,349.2 L439.1,349.2 L440.6,349.2 L442.1,349.1 L443.6,349.1 L445.1,349.1 L446.6,349.1 L448.1,349.0 L449.6,349.0 L451.1,349.0 L452.6,349.0 L454.1,349.0 L455.6,349.0 L457.1,349.0 L458.6,349.0 L460.1,349.0 L461.6,349.0 L463.1,349.0 L464.6,349.0 L466.1,349.0 L467.6,349.0 L469.1,349.0 L470.6,349.0 L472.1,349.0 L473.6,349.1 L475.1,349.1 L476.6,349.1 L478.1,349.1 L479.6,349.2 L481.1,349.2 L482.6,349.2 L484.1,349.3 L485.6,349.3 L487.1,349.3 L488.6,349.4 L490.1,349.4 L491.6,349.5 L493.1,349.5 L494.6,349.6 L496.1,349.6 L497.6,349.7 L499.1,349.8 L500.6,349.8 L502.1,349.9 L503.6,350.0 L505.1,350.0 L506.6,350.1 L508.1,350.2 L509.6,350.3 L511.1,350.4 L512.6,350.4 L514.1,350.5 L515.6,350.6 L517.1,350.7 L518.6,350.8 L520.1,350.9 L521.6,351.0 L523.1,351.1 L524.6,351.2 L526.1,351.3 L527.6,351.4 L529.1,351.5 L530.6,351.7 L532.1,351.8 L533.6,351.9 L535.1,352.0 L536.6,352.2 L538.1,352.3 L539.6,352.4 L541.1,352.6 L542.6,352.7 L544.1,352.8 L545.6,353.0 L547.1,353.1 L548.6,353.3 L550.1,353.4 L551.6,353.6 L553.1,353.7 L554.6,353.9 L556.2,354.0 L557.7,354.2 L559.2,354.4 L560.7,354.5 L562.2,354.7 L563.7,354.9 L565.2,355.1 L566.7,355.3 L568.2,355.4 L569.7,355.6 L571.2,355.8 L572.7,356.0 L574.2,356.2 L575.7,356.4 L577.2,356.6 L578.7,356.8 L580.2,357.0 L581.7,357.2 L583.2,357.4 L584.7,357.6 L586.2,357.9 L587.7,358.1 L589.2,358.3 L590.7,358.5 L592.2,358.7 L593.7,359.0 L595.2,359.2 L596.7,359.4 L598.2,359.7 L599.7,359.9 L601.2,360.2 L602.7,360.4 L604.2,360.7 L605.7,360.9 L607.2,361.2 L608.7,361.4 L610.2,361.7 L611.7,362.0 L613.2,362.2 L614.7,362.5 L616.2,362.8 L617.7,363.1 L619.2,363.3 L620.7,363.6 L622.2,363.9 L623.7,364.2 L625.2,364.5 L626.7,364.8 L628.2,365.1 L629.7,365.4 L631.2,365.7 L632.7,366.0 L634.2,366.3 L635.7,366.6 L637.2,366.9 L638.7,367.2 L640.2,367.6 L641.7,367.9 L643.2,368.2 L644.7,368.5 L646.2,368.9 L647.7,369.2 L649.2,369.5 L650.7,369.9 L652.2,370.2 L653.7,370.6 L655.2,370.9 L656.7,371.3 L658.2,371.6 L659.7,372.0 L661.2,372.4 L662.7,372.7 L664.2,373.1 L665.7,373.5 L667.2,373.8 L668.7,374.2 L670.2,374.6 L671.7,375.0 L673.2,375.4 L674.7,375.8 L676.2,376.1 L677.8,376.5 L679.3,376.9 L680.8,377.3 L682.3,377.7 L683.8,378.2 L685.3,378.6 L686.8,379.0 L688.3,379.4 L689.8,379.8 L691.3,380.2 L692.8,380.7 L694.3,381.1 L695.8,381.5 L697.3,382.0 L698.8,382.4 L700.3,382.8 L701.8,383.3 L703.3,383.7 L704.8,384.2 L706.3,384.6 L707.8,385.1 L709.3,385.6 L710.8,386.0 L712.3,386.5 L713.8,387.0 L715.3,387.4 L716.8,387.9 L718.3,388.4 L719.8,388.9 L721.3,389.3 L722.8,389.8 L724.3,390.3 L725.8,390.8 L727.3,391.3 L728.8,391.8 L730.3,392.3 L731.8,392.8 L733.3,393.3 L734.8,393.9 L736.3,394.4 L737.8,394.9 L739.3,395.4 L740.8,395.9 L742.3,396.5 L743.8,397.0 L745.3,397.5 L746.8,398.1 L748.3,398.6 L749.8,399.2 L751.3,399.7 L752.8,400.3 L754.3,400.8 L755.8,401.4 L757.3,402.0 L758.8,402.5 L760.3,403.1 L761.8,403.7 L763.3,404.2 L764.8,404.8 L766.3,405.4 L767.8,406.0 L769.3,406.6 L770.8,407.2 L772.3,407.8 L773.8,408.4 L775.3,409.0 L776.8,409.6 L778.3,410.2 L779.8,410.8 L781.3,411.4 L782.8,412.0 L784.3,412.6 L785.8,413.3 L787.3,413.9 L788.8,414.5 L790.3,415.2 L791.8,415.8 L793.3,416.4 L794.8,417.1 L796.3,417.7 L797.8,418.4 L799.3,419.0 L800.9,419.7 L802.4,420.4 L803.9,421.0 L805.4,421.7 L806.9,422.4 L808.4,423.0 L809.9,423.7 L811.4,424.4 L812.9,425.1 L814.4,425.8 L815.9,426.5 L817.4,427.2 L818.9,427.9 L820.4,428.6 L821.9,429.3 L823.4,430.0 L824.9,430.7 L826.4,431.4 L827.9,432.1 L829.4,432.9 L830.9,433.6 L832.4,434.3 L833.9,435.1 L835.4,435.8 L836.9,436.5 L838.4,437.3 L839.9,438.0 L841.4,438.8 L842.9,439.5 L844.4,440.3 L845.9,441.0 L847.4,441.8 L848.9,442.6 L850.4,443.4 L851.9,444.1 L853.4,444.9 L854.9,445.7 L856.4,446.5 L857.9,447.3 L859.4,448.1 L860.9,448.9 L862.4,449.7 L863.9,450.5 L865.4,451.3 L866.9,452.1 L868.4,452.9 L869.9,453.7 L871.4,454.5 L872.9,455.4 L874.4,456.2 L875.9,457.0 L877.4,457.9 L878.9,458.7 L880.4,459.5 L881.9,460.4 L883.4,461.2 L884.9,462.1 L886.4,462.9 L887.9,463.8 L889.4,464.7 L890.9,465.5 L892.4,466.4 L893.9,467.3 L895.4,468.2 L896.9,469.0 L898.4,469.9 L899.9,470.8 L901.4,471.7 L902.9,472.6 L904.4,473.5 L905.9,474.4 L907.4,475.3 L908.9,476.2 L910.4,477.1 L911.9,478.1 L913.4,479.0 L914.9,479.9 L916.4,480.8 L917.9,481.8 L919.4,482.7 L920.9,483.7 L922.5,484.6 L924.0,485.6 L925.5,486.5 L927.0,487.5 L928.5,488.4 L930.0,489.4 L931.5,490.3 L933.0,491.3 L934.5,492.3 L936.0,493.3 L937.5,494.3 L939.0,495.2 L940.5,496.2 L942.0,497.2 L943.5,498.2 L945.0,499.2 L946.5,500.2 L948.0,501.2 L949.5,502.2 L951.0,503.3 L952.5,504.3 L954.0,505.3 L955.5,506.3 L957.0,507.4 L958.5,508.4 L960.0,509.4 L961.5,510.5 L963.0,511.5 L964.5,512.6 L966.0,513.6 L967.5,514.7 L969.0,515.7 L970.5,516.8 L972.0,517.9 L973.5,518.9 L975.0,520.0 L976.5,521.1 L978.0,522.2 L979.5,523.3 L981.0,524.4 L982.5,525.5" fill="none" stroke="#0000FF" stroke-width="3.7" stroke-linejoin="round" stroke-dasharray="3.6 9.2 16.5 9.2 3.6 9.2" clip-path="url(#clipL)"/>
<path d="M128.3,20.2V622.0M127.10000000000001,21.4H985.8" stroke="#000" stroke-width="2.4" fill="none"/>
<path d="M984.8,20.2V622.0M127.10000000000001,621.0H985.8" stroke="#000" stroke-width="2.0" fill="none"/>
<path d="M192.8,620.7v-8.5M192.8,21.2v8.5M230.5,620.7v-8.5M230.5,21.2v8.5M257.2,620.7v-8.5M257.2,21.2v8.5M278.0,620.7v-8.5M278.0,21.2v8.5M295.0,620.7v-8.5M295.0,21.2v8.5M309.3,620.7v-8.5M309.3,21.2v8.5M321.7,620.7v-8.5M321.7,21.2v8.5M332.7,620.7v-8.5M332.7,21.2v8.5M342.5,620.7v-17.3M342.5,21.2v17.3M406.9,620.7v-8.5M406.9,21.2v8.5M444.7,620.7v-8.5M444.7,21.2v8.5M471.4,620.7v-8.5M471.4,21.2v8.5M492.2,620.7v-8.5M492.2,21.2v8.5M509.1,620.7v-8.5M509.1,21.2v8.5M523.5,620.7v-8.5M523.5,21.2v8.5M535.9,620.7v-8.5M535.9,21.2v8.5M546.8,620.7v-8.5M546.8,21.2v8.5M556.7,620.7v-17.3M556.7,21.2v17.3M621.1,620.7v-8.5M621.1,21.2v8.5M658.8,620.7v-8.5M658.8,21.2v8.5M685.6,620.7v-8.5M685.6,21.2v8.5M706.4,620.7v-8.5M706.4,21.2v8.5M723.3,620.7v-8.5M723.3,21.2v8.5M737.6,620.7v-8.5M737.6,21.2v8.5M750.1,620.7v-8.5M750.1,21.2v8.5M761.0,620.7v-8.5M761.0,21.2v8.5M770.8,620.7v-17.3M770.8,21.2v17.3M835.3,620.7v-8.5M835.3,21.2v8.5M873.0,620.7v-8.5M873.0,21.2v8.5M899.8,620.7v-8.5M899.8,21.2v8.5M920.5,620.7v-8.5M920.5,21.2v8.5M937.5,620.7v-8.5M937.5,21.2v8.5M951.8,620.7v-8.5M951.8,21.2v8.5M964.2,620.7v-8.5M964.2,21.2v8.5M975.2,620.7v-8.5M975.2,21.2v8.5M128.3,141.1h17.3M985.0,141.1h-17.3M128.3,105.0h8.5M985.0,105.0h-8.5M128.3,83.9h8.5M985.0,83.9h-8.5M128.3,68.9h8.5M985.0,68.9h-8.5M128.3,57.3h8.5M985.0,57.3h-8.5M128.3,47.8h8.5M985.0,47.8h-8.5M128.3,39.8h8.5M985.0,39.8h-8.5M128.3,32.8h8.5M985.0,32.8h-8.5M128.3,26.7h8.5M985.0,26.7h-8.5M128.3,261.0h17.3M985.0,261.0h-17.3M128.3,224.9h8.5M985.0,224.9h-8.5M128.3,203.8h8.5M985.0,203.8h-8.5M128.3,188.8h8.5M985.0,188.8h-8.5M128.3,177.2h8.5M985.0,177.2h-8.5M128.3,167.7h8.5M985.0,167.7h-8.5M128.3,159.7h8.5M985.0,159.7h-8.5M128.3,152.7h8.5M985.0,152.7h-8.5M128.3,146.6h8.5M985.0,146.6h-8.5M128.3,380.9h17.3M985.0,380.9h-17.3M128.3,344.8h8.5M985.0,344.8h-8.5M128.3,323.7h8.5M985.0,323.7h-8.5M128.3,308.7h8.5M985.0,308.7h-8.5M128.3,297.1h8.5M985.0,297.1h-8.5M128.3,287.6h8.5M985.0,287.6h-8.5M128.3,279.6h8.5M985.0,279.6h-8.5M128.3,272.6h8.5M985.0,272.6h-8.5M128.3,266.5h8.5M985.0,266.5h-8.5M128.3,500.8h17.3M985.0,500.8h-17.3M128.3,464.7h8.5M985.0,464.7h-8.5M128.3,443.6h8.5M985.0,443.6h-8.5M128.3,428.6h8.5M985.0,428.6h-8.5M128.3,417.0h8.5M985.0,417.0h-8.5M128.3,407.5h8.5M985.0,407.5h-8.5M128.3,399.5h8.5M985.0,399.5h-8.5M128.3,392.5h8.5M985.0,392.5h-8.5M128.3,386.4h8.5M985.0,386.4h-8.5M128.3,584.6h8.5M985.0,584.6h-8.5M128.3,563.5h8.5M985.0,563.5h-8.5M128.3,548.5h8.5M985.0,548.5h-8.5M128.3,536.9h8.5M985.0,536.9h-8.5M128.3,527.4h8.5M985.0,527.4h-8.5M128.3,519.4h8.5M985.0,519.4h-8.5M128.3,512.4h8.5M985.0,512.4h-8.5M128.3,506.3h8.5M985.0,506.3h-8.5" stroke="#000" stroke-width="2.0" fill="none"/>
<line x1="444.6" y1="18.7" x2="444.6" y2="617.5" stroke="#40E0D0" stroke-width="4.8" stroke-dasharray="4.7 13.37"/>
<path d="M1167.0,444.7 L1201.2,441.7 L1235.4,440.8 L1269.6,442.1 L1303.8,445.2 L1338.0,450.1 L1372.3,456.3 L1406.5,463.4 L1440.7,470.9 L1474.9,478.6 L1509.1,485.9 L1543.3,492.8 L1577.5,499.2 L1611.7,505.0 L1645.9,510.3 L1680.2,515.1 L1714.4,519.1 L1748.6,522.8 L1782.8,529.3 L1817.0,540.3 L1851.3,556.2 L1885.3,576.4 L1919.6,601.7 L1953.8,634.3" fill="none" stroke="#000000" stroke-width="3.35" stroke-linejoin="round" clip-path="url(#clipR)"/>
<path d="M1167.0,417.1 L1168.5,416.8 L1170.0,416.6 L1171.5,416.3 L1173.0,416.1 L1174.5,415.8 L1176.0,415.6 L1177.5,415.4 L1179.0,415.1 L1180.5,414.9 L1182.0,414.7 L1183.5,414.5 L1185.0,414.3 L1186.5,414.1 L1188.0,413.9 L1189.5,413.8 L1191.0,413.6 L1192.5,413.4 L1194.0,413.2 L1195.5,413.1 L1197.0,412.9 L1198.5,412.8 L1200.0,412.6 L1201.5,412.5 L1203.0,412.4 L1204.5,412.2 L1206.0,412.1 L1207.5,412.0 L1209.0,411.9 L1210.5,411.8 L1212.0,411.7 L1213.5,411.6 L1215.0,411.5 L1216.5,411.4 L1218.0,411.3 L1219.5,411.2 L1221.0,411.1 L1222.5,411.1 L1224.0,411.0 L1225.5,410.9 L1227.0,410.9 L1228.5,410.8 L1230.0,410.8 L1231.5,410.7 L1233.0,410.7 L1234.5,410.7 L1236.0,410.6 L1237.5,410.6 L1239.0,410.6 L1240.5,410.6 L1242.0,410.6 L1243.5,410.5 L1245.0,410.5 L1246.5,410.5 L1248.0,410.5 L1249.5,410.6 L1251.0,410.6 L1252.5,410.6 L1254.0,410.6 L1255.5,410.6 L1257.0,410.7 L1258.5,410.7 L1260.0,410.7 L1261.5,410.8 L1263.0,410.8 L1264.5,410.8 L1266.0,410.9 L1267.5,411.0 L1269.0,411.0 L1270.5,411.1 L1272.0,411.1 L1273.5,411.2 L1275.0,411.3 L1276.5,411.4 L1278.0,411.4 L1279.5,411.5 L1281.0,411.6 L1282.5,411.7 L1284.0,411.8 L1285.5,411.9 L1287.0,412.0 L1288.5,412.1 L1290.0,412.2 L1291.5,412.3 L1293.0,412.4 L1294.5,412.5 L1296.0,412.6 L1297.5,412.7 L1299.0,412.9 L1300.5,413.0 L1302.0,413.1 L1303.5,413.3 L1305.0,413.4 L1306.5,413.5 L1308.0,413.7 L1309.5,413.8 L1311.0,413.9 L1312.5,414.1 L1314.0,414.2 L1315.5,414.4 L1317.0,414.5 L1318.5,414.7 L1320.0,414.9 L1321.5,415.0 L1323.0,415.2 L1324.5,415.4 L1326.0,415.5 L1327.5,415.7 L1329.0,415.9 L1330.5,416.0 L1332.0,416.2 L1333.5,416.4 L1335.0,416.6 L1336.5,416.8 L1338.0,416.9 L1339.5,417.1 L1341.0,417.3 L1342.5,417.5 L1344.0,417.7 L1345.5,417.9 L1347.0,418.1 L1348.5,418.3 L1350.0,418.5 L1351.5,418.7 L1353.0,418.9 L1354.5,419.1 L1356.0,419.3 L1357.5,419.5 L1359.0,419.7 L1360.5,419.9 L1362.0,420.1 L1363.5,420.4 L1365.0,420.6 L1366.5,420.8 L1368.0,421.0 L1369.5,421.2 L1371.0,421.4 L1372.5,421.7 L1374.0,421.9 L1375.5,422.1 L1377.0,422.3 L1378.5,422.6 L1380.0,422.8 L1381.5,423.0 L1383.0,423.2 L1384.5,423.5 L1386.0,423.7 L1387.5,423.9 L1389.0,424.2 L1390.5,424.4 L1392.0,424.6 L1393.5,424.9 L1395.0,425.1 L1396.5,425.3 L1398.0,425.6 L1399.5,425.8 L1401.0,426.0 L1402.5,426.3 L1404.0,426.5 L1405.5,426.7 L1407.0,427.0 L1408.5,427.2 L1410.0,427.5 L1411.5,427.7 L1413.0,427.9 L1414.5,428.2 L1416.0,428.4 L1417.5,428.7 L1419.0,428.9 L1420.5,429.1 L1422.0,429.4 L1423.5,429.6 L1425.0,429.9 L1426.5,430.1 L1428.0,430.4 L1429.5,430.6 L1431.0,430.8 L1432.5,431.1 L1434.0,431.3 L1435.5,431.6 L1437.0,431.8 L1438.5,432.1 L1440.0,432.3 L1441.5,432.6 L1443.0,432.8 L1444.5,433.1 L1446.0,433.3 L1447.5,433.5 L1449.0,433.8 L1450.5,434.0 L1452.0,434.3 L1453.5,434.5 L1455.0,434.8 L1456.5,435.0 L1458.0,435.3 L1459.5,435.5 L1461.0,435.8 L1462.5,436.0 L1464.0,436.3 L1465.5,436.5 L1467.0,436.8 L1468.5,437.0 L1470.0,437.3 L1471.5,437.5 L1473.0,437.8 L1474.5,438.0 L1476.0,438.3 L1477.5,438.5 L1479.0,438.7 L1480.5,439.0 L1482.0,439.2 L1483.5,439.5 L1485.0,439.7 L1486.5,440.0 L1488.0,440.2 L1489.5,440.5 L1491.0,440.7 L1492.5,441.0 L1494.0,441.2 L1495.5,441.5 L1497.0,441.7 L1498.5,441.9 L1500.0,442.2 L1501.5,442.4 L1503.0,442.7 L1504.5,442.9 L1506.0,443.2 L1507.5,443.4 L1509.0,443.7 L1510.5,443.9 L1512.0,444.1 L1513.5,444.4 L1515.0,444.6 L1516.5,444.9 L1518.0,445.1 L1519.5,445.3 L1521.0,445.6 L1522.5,445.8 L1524.0,446.1 L1525.5,446.3 L1527.0,446.5 L1528.5,446.8 L1530.0,447.0 L1531.5,447.3 L1533.0,447.5 L1534.5,447.7 L1536.0,448.0 L1537.5,448.2 L1539.0,448.4 L1540.5,448.7 L1542.0,448.9 L1543.5,449.1 L1545.0,449.4 L1546.5,449.6 L1548.0,449.8 L1549.5,450.0 L1551.0,450.3 L1552.5,450.5 L1554.0,450.7 L1555.5,451.0 L1557.0,451.2 L1558.5,451.4 L1560.0,451.6 L1561.5,451.9 L1563.0,452.1 L1564.5,452.3 L1566.0,452.5 L1567.5,452.7 L1569.0,453.0 L1570.5,453.2 L1572.0,453.4 L1573.5,453.6 L1575.0,453.8 L1576.5,454.0 L1578.0,454.3 L1579.5,454.5 L1581.0,454.7 L1582.5,454.9 L1584.0,455.1 L1585.5,455.3 L1587.0,455.5 L1588.5,455.7 L1590.0,455.9 L1591.5,456.1 L1593.0,456.3 L1594.5,456.5 L1596.0,456.7 L1597.5,456.9 L1599.0,457.1 L1600.5,457.3 L1602.0,457.5 L1603.5,457.7 L1605.0,457.9 L1606.5,458.1 L1608.0,458.3 L1609.5,458.5 L1611.0,458.7 L1612.5,458.9 L1614.0,459.1 L1615.5,459.3 L1617.0,459.5 L1618.5,459.6 L1620.0,459.8 L1621.5,460.0 L1623.0,460.2 L1624.5,460.4 L1626.0,460.6 L1627.5,460.7 L1629.0,460.9 L1630.5,461.1 L1632.0,461.3 L1633.5,461.4 L1635.0,461.6 L1636.5,461.8 L1638.0,462.0 L1639.5,462.1 L1641.0,462.3 L1642.5,462.5 L1644.0,462.7 L1645.5,462.8 L1647.0,463.0 L1648.5,463.2 L1650.0,463.3 L1651.5,463.5 L1653.0,463.7 L1654.5,463.9 L1656.0,464.0 L1657.5,464.2 L1659.0,464.4 L1660.5,464.6 L1662.0,464.8 L1663.5,464.9 L1665.0,465.1 L1666.5,465.3 L1668.0,465.5 L1669.5,465.7 L1671.0,465.8 L1672.5,466.0 L1674.0,466.2 L1675.5,466.4 L1677.0,466.6 L1678.5,466.8 L1680.0,467.0 L1681.5,467.2 L1683.0,467.4 L1684.5,467.5 L1686.0,467.7 L1687.5,467.9 L1689.0,468.1 L1690.5,468.4 L1692.0,468.6 L1693.5,468.8 L1695.0,469.0 L1696.5,469.2 L1698.0,469.4 L1699.5,469.6 L1701.0,469.8 L1702.5,470.1 L1704.0,470.3 L1705.5,470.5 L1707.0,470.8 L1708.5,471.0 L1710.0,471.2 L1711.5,471.5 L1713.0,471.7 L1714.5,472.0 L1716.0,472.2 L1717.5,472.5 L1719.0,472.7 L1720.5,473.0 L1722.0,473.2 L1723.5,473.5 L1725.0,473.8 L1726.5,474.0 L1728.0,474.3 L1729.5,474.6 L1731.0,474.9 L1732.5,475.2 L1734.0,475.5 L1735.5,475.8 L1737.0,476.1 L1738.5,476.4 L1740.0,476.7 L1741.5,477.0 L1743.0,477.3 L1744.5,477.6 L1746.0,478.0 L1747.5,478.3 L1749.0,478.6 L1750.5,479.0 L1752.0,479.3 L1753.5,479.7 L1755.0,480.0 L1756.5,480.4 L1758.0,480.8 L1759.5,481.2 L1761.0,481.5 L1762.5,481.9 L1764.0,482.3 L1765.5,482.7 L1767.0,483.1 L1768.5,483.5 L1770.0,483.9 L1771.5,484.3 L1773.0,484.8 L1774.5,485.2 L1776.0,485.6 L1777.5,486.1 L1779.0,486.5 L1780.5,487.0 L1782.0,487.4 L1783.5,487.9 L1785.0,488.4 L1786.5,488.8 L1788.0,489.3 L1789.5,489.8 L1791.0,490.3 L1792.5,490.8 L1794.0,491.3 L1795.5,491.9 L1797.0,492.4 L1798.5,492.9 L1800.0,493.5 L1801.5,494.0 L1803.0,494.6 L1804.5,495.1 L1806.0,495.7 L1807.5,496.3 L1809.0,496.9 L1810.5,497.4 L1812.0,498.0 L1813.5,498.7 L1815.0,499.3 L1816.5,499.9 L1818.0,500.5 L1819.5,501.2 L1821.0,501.8 L1822.5,502.5 L1824.0,503.1 L1825.5,503.8 L1827.0,504.5 L1828.5,505.2 L1830.0,505.9 L1831.5,506.6 L1833.0,507.3 L1834.5,508.0 L1836.0,508.7 L1837.5,509.5 L1839.0,510.2 L1840.5,511.0 L1842.0,511.8 L1843.5,512.5 L1845.0,513.3 L1846.5,514.1 L1848.0,514.9 L1849.5,515.7 L1851.0,516.6 L1852.5,517.4 L1854.0,518.2 L1855.5,519.1 L1857.0,519.9 L1858.5,520.8 L1860.0,521.7 L1861.5,522.6 L1863.0,523.5 L1864.5,524.4 L1866.0,525.3 L1867.5,526.2 L1869.0,527.2 L1870.5,528.1 L1872.0,529.1 L1873.5,530.0 L1875.0,531.0 L1876.5,532.0 L1878.0,533.0 L1879.5,534.0 L1881.0,535.0 L1882.5,536.1 L1884.0,537.1 L1885.5,538.2 L1887.0,539.2 L1888.5,540.3 L1890.0,541.4 L1891.5,542.5 L1893.0,543.6 L1894.5,544.7 L1896.0,545.8 L1897.5,546.9 L1899.0,548.1 L1900.5,549.2 L1902.0,550.4 L1903.5,551.6 L1905.0,552.8 L1906.5,553.9 L1908.0,555.2 L1909.5,556.4 L1911.0,557.6 L1912.5,558.9 L1914.0,560.1 L1915.5,561.4 L1917.0,562.7 L1918.5,563.9 L1920.0,565.2 L1921.5,566.6 L1923.0,567.9 L1924.5,569.2 L1926.0,570.6 L1927.5,571.9 L1929.0,573.3 L1930.5,574.7 L1932.0,576.1 L1933.5,577.5 L1935.0,578.9 L1936.5,580.3 L1938.0,581.7 L1939.5,583.2 L1941.0,584.7 L1942.5,586.1 L1944.0,587.6 L1945.5,589.1 L1947.0,590.6 L1948.5,592.2 L1950.0,593.7 L1951.5,595.2 L1953.0,596.8 L1954.5,598.4 L1956.0,600.0 L1957.5,601.6 L1959.0,603.2 L1960.5,604.8 L1962.0,606.4 L1963.5,608.1 L1965.0,609.8 L1966.5,611.4 L1968.0,613.1 L1969.5,614.8 L1971.0,616.5 L1972.5,618.3 L1974.0,620.0 L1975.5,621.8 L1977.0,623.5 L1978.5,625.3 L1980.0,627.1" fill="none" stroke="#FFA500" stroke-width="5.4" stroke-linejoin="round" stroke-dasharray="5.3 15.3" clip-path="url(#clipR)"/>
<path d="M1167.0,375.3 L1168.5,375.1 L1170.0,374.9 L1171.5,374.6 L1173.0,374.4 L1174.5,374.2 L1176.0,373.9 L1177.5,373.7 L1179.0,373.5 L1180.5,373.3 L1182.0,373.1 L1183.5,372.9 L1185.0,372.7 L1186.5,372.6 L1188.0,372.4 L1189.5,372.2 L1191.0,372.1 L1192.5,371.9 L1194.0,371.7 L1195.5,371.6 L1197.0,371.4 L1198.5,371.3 L1200.0,371.2 L1201.5,371.0 L1203.0,370.9 L1204.5,370.8 L1206.0,370.7 L1207.5,370.6 L1209.0,370.5 L1210.5,370.4 L1212.0,370.3 L1213.5,370.2 L1215.0,370.1 L1216.5,370.0 L1218.0,369.9 L1219.5,369.8 L1221.0,369.8 L1222.5,369.7 L1224.0,369.6 L1225.5,369.6 L1227.0,369.5 L1228.5,369.5 L1230.0,369.4 L1231.5,369.4 L1233.0,369.4 L1234.5,369.3 L1236.0,369.3 L1237.5,369.3 L1239.0,369.3 L1240.5,369.3 L1242.0,369.2 L1243.5,369.2 L1245.0,369.2 L1246.5,369.2 L1248.0,369.3 L1249.5,369.3 L1251.0,369.3 L1252.5,369.3 L1254.0,369.3 L1255.5,369.3 L1257.0,369.4 L1258.5,369.4 L1260.0,369.4 L1261.5,369.5 L1263.0,369.5 L1264.5,369.6 L1266.0,369.6 L1267.5,369.7 L1269.0,369.7 L1270.5,369.8 L1272.0,369.9 L1273.5,369.9 L1275.0,370.0 L1276.5,370.1 L1278.0,370.2 L1279.5,370.3 L1281.0,370.4 L1282.5,370.4 L1284.0,370.5 L1285.5,370.6 L1287.0,370.7 L1288.5,370.8 L1290.0,370.9 L1291.5,371.1 L1293.0,371.2 L1294.5,371.3 L1296.0,371.4 L1297.5,371.5 L1299.0,371.6 L1300.5,371.8 L1302.0,371.9 L1303.5,372.0 L1305.0,372.2 L1306.5,372.3 L1308.0,372.5 L1309.5,372.6 L1311.0,372.8 L1312.5,372.9 L1314.0,373.1 L1315.5,373.2 L1317.0,373.4 L1318.5,373.5 L1320.0,373.7 L1321.5,373.9 L1323.0,374.0 L1324.5,374.2 L1326.0,374.4 L1327.5,374.6 L1329.0,374.7 L1330.5,374.9 L1332.0,375.1 L1333.5,375.3 L1335.0,375.5 L1336.5,375.7 L1338.0,375.9 L1339.5,376.1 L1341.0,376.3 L1342.5,376.5 L1344.0,376.7 L1345.5,376.9 L1347.0,377.1 L1348.5,377.3 L1350.0,377.5 L1351.5,377.7 L1353.0,377.9 L1354.5,378.1 L1356.0,378.3 L1357.5,378.6 L1359.0,378.8 L1360.5,379.0 L1362.0,379.2 L1363.5,379.5 L1365.0,379.7 L1366.5,379.9 L1368.0,380.1 L1369.5,380.4 L1371.0,380.6 L1372.5,380.8 L1374.0,381.1 L1375.5,381.3 L1377.0,381.6 L1378.5,381.8 L1380.0,382.0 L1381.5,382.3 L1383.0,382.5 L1384.5,382.8 L1386.0,383.0 L1387.5,383.3 L1389.0,383.5 L1390.5,383.8 L1392.0,384.0 L1393.5,384.3 L1395.0,384.6 L1396.5,384.8 L1398.0,385.1 L1399.5,385.3 L1401.0,385.6 L1402.5,385.9 L1404.0,386.1 L1405.5,386.4 L1407.0,386.6 L1408.5,386.9 L1410.0,387.2 L1411.5,387.4 L1413.0,387.7 L1414.5,388.0 L1416.0,388.2 L1417.5,388.5 L1419.0,388.8 L1420.5,389.1 L1422.0,389.3 L1423.5,389.6 L1425.0,389.9 L1426.5,390.2 L1428.0,390.4 L1429.5,390.7 L1431.0,391.0 L1432.5,391.3 L1434.0,391.5 L1435.5,391.8 L1437.0,392.1 L1438.5,392.4 L1440.0,392.7 L1441.5,392.9 L1443.0,393.2 L1444.5,393.5 L1446.0,393.8 L1447.5,394.1 L1449.0,394.4 L1450.5,394.7 L1452.0,394.9 L1453.5,395.2 L1455.0,395.5 L1456.5,395.8 L1458.0,396.1 L1459.5,396.4 L1461.0,396.7 L1462.5,397.0 L1464.0,397.3 L1465.5,397.5 L1467.0,397.8 L1468.5,398.1 L1470.0,398.4 L1471.5,398.7 L1473.0,399.0 L1474.5,399.3 L1476.0,399.6 L1477.5,399.9 L1479.0,400.2 L1480.5,400.5 L1482.0,400.8 L1483.5,401.1 L1485.0,401.4 L1486.5,401.7 L1488.0,402.0 L1489.5,402.3 L1491.0,402.6 L1492.5,402.9 L1494.0,403.2 L1495.5,403.5 L1497.0,403.8 L1498.5,404.1 L1500.0,404.4 L1501.5,404.7 L1503.0,405.0 L1504.5,405.3 L1506.0,405.6 L1507.5,405.9 L1509.0,406.2 L1510.5,406.5 L1512.0,406.8 L1513.5,407.1 L1515.0,407.4 L1516.5,407.7 L1518.0,408.0 L1519.5,408.3 L1521.0,408.6 L1522.5,408.9 L1524.0,409.2 L1525.5,409.5 L1527.0,409.8 L1528.5,410.1 L1530.0,410.4 L1531.5,410.7 L1533.0,411.0 L1534.5,411.3 L1536.0,411.6 L1537.5,411.9 L1539.0,412.2 L1540.5,412.5 L1542.0,412.8 L1543.5,413.1 L1545.0,413.4 L1546.5,413.7 L1548.0,414.0 L1549.5,414.3 L1551.0,414.6 L1552.5,414.9 L1554.0,415.2 L1555.5,415.5 L1557.0,415.8 L1558.5,416.1 L1560.0,416.4 L1561.5,416.7 L1563.0,417.0 L1564.5,417.3 L1566.0,417.6 L1567.5,417.9 L1569.0,418.2 L1570.5,418.5 L1572.0,418.8 L1573.5,419.0 L1575.0,419.3 L1576.5,419.6 L1578.0,419.9 L1579.5,420.2 L1581.0,420.5 L1582.5,420.8 L1584.0,421.1 L1585.5,421.4 L1587.0,421.7 L1588.5,422.0 L1590.0,422.3 L1591.5,422.6 L1593.0,422.9 L1594.5,423.1 L1596.0,423.4 L1597.5,423.7 L1599.0,424.0 L1600.5,424.3 L1602.0,424.6 L1603.5,424.9 L1605.0,425.2 L1606.5,425.4 L1608.0,425.7 L1609.5,426.0 L1611.0,426.3 L1612.5,426.6 L1614.0,426.9 L1615.5,427.1 L1617.0,427.4 L1618.5,427.7 L1620.0,428.0 L1621.5,428.3 L1623.0,428.5 L1624.5,428.8 L1626.0,429.1 L1627.5,429.4 L1629.0,429.6 L1630.5,429.9 L1632.0,430.2 L1633.5,430.5 L1635.0,430.7 L1636.5,431.0 L1638.0,431.3 L1639.5,431.5 L1641.0,431.8 L1642.5,432.1 L1644.0,432.4 L1645.5,432.6 L1647.0,432.9 L1648.5,433.2 L1650.0,433.5 L1651.5,433.7 L1653.0,434.0 L1654.5,434.3 L1656.0,434.6 L1657.5,434.8 L1659.0,435.1 L1660.5,435.4 L1662.0,435.7 L1663.5,435.9 L1665.0,436.2 L1666.5,436.5 L1668.0,436.8 L1669.5,437.1 L1671.0,437.3 L1672.5,437.6 L1674.0,437.9 L1675.5,438.2 L1677.0,438.5 L1678.5,438.8 L1680.0,439.1 L1681.5,439.3 L1683.0,439.6 L1684.5,439.9 L1686.0,440.2 L1687.5,440.5 L1689.0,440.8 L1690.5,441.1 L1692.0,441.4 L1693.5,441.7 L1695.0,442.0 L1696.5,442.3 L1698.0,442.7 L1699.5,443.0 L1701.0,443.3 L1702.5,443.6 L1704.0,443.9 L1705.5,444.2 L1707.0,444.6 L1708.5,444.9 L1710.0,445.2 L1711.5,445.5 L1713.0,445.9 L1714.5,446.2 L1716.0,446.6 L1717.5,446.9 L1719.0,447.2 L1720.5,447.6 L1722.0,447.9 L1723.5,448.3 L1725.0,448.6 L1726.5,449.0 L1728.0,449.4 L1729.5,449.7 L1731.0,450.1 L1732.5,450.5 L1734.0,450.8 L1735.5,451.2 L1737.0,451.6 L1738.5,452.0 L1740.0,452.4 L1741.5,452.8 L1743.0,453.2 L1744.5,453.6 L1746.0,454.0 L1747.5,454.4 L1749.0,454.8 L1750.5,455.2 L1752.0,455.6 L1753.5,456.0 L1755.0,456.4 L1756.5,456.9 L1758.0,457.3 L1759.5,457.8 L1761.0,458.2 L1762.5,458.6 L1764.0,459.1 L1765.5,459.6 L1767.0,460.0 L1768.5,460.5 L1770.0,461.0 L1771.5,461.4 L1773.0,461.9 L1774.5,462.4 L1776.0,462.9 L1777.5,463.4 L1779.0,463.9 L1780.5,464.4 L1782.0,464.9 L1783.5,465.5 L1785.0,466.0 L1786.5,466.5 L1788.0,467.1 L1789.5,467.6 L1791.0,468.2 L1792.5,468.7 L1794.0,469.3 L1795.5,469.9 L1797.0,470.4 L1798.5,471.0 L1800.0,471.6 L1801.5,472.2 L1803.0,472.8 L1804.5,473.4 L1806.0,474.1 L1807.5,474.7 L1809.0,475.3 L1810.5,476.0 L1812.0,476.6 L1813.5,477.3 L1815.0,477.9 L1816.5,478.6 L1818.0,479.3 L1819.5,480.0 L1821.0,480.7 L1822.5,481.4 L1824.0,482.1 L1825.5,482.8 L1827.0,483.6 L1828.5,484.3 L1830.0,485.0 L1831.5,485.8 L1833.0,486.6 L1834.5,487.3 L1836.0,488.1 L1837.5,488.9 L1839.0,489.7 L1840.5,490.5 L1842.0,491.3 L1843.5,492.2 L1845.0,493.0 L1846.5,493.8 L1848.0,494.7 L1849.5,495.6 L1851.0,496.4 L1852.5,497.3 L1854.0,498.2 L1855.5,499.1 L1857.0,500.0 L1858.5,501.0 L1860.0,501.9 L1861.5,502.8 L1863.0,503.8 L1864.5,504.8 L1866.0,505.7 L1867.5,506.7 L1869.0,507.7 L1870.5,508.7 L1872.0,509.8 L1873.5,510.8 L1875.0,511.8 L1876.5,512.9 L1878.0,513.9 L1879.5,515.0 L1881.0,516.1 L1882.5,517.2 L1884.0,518.3 L1885.5,519.4 L1887.0,520.5 L1888.5,521.6 L1890.0,522.8 L1891.5,523.9 L1893.0,525.1 L1894.5,526.2 L1896.0,527.4 L1897.5,528.6 L1899.0,529.8 L1900.5,531.0 L1902.0,532.2 L1903.5,533.5 L1905.0,534.7 L1906.5,535.9 L1908.0,537.2 L1909.5,538.5 L1911.0,539.7 L1912.5,541.0 L1914.0,542.3 L1915.5,543.6 L1917.0,544.9 L1918.5,546.2 L1920.0,547.6 L1921.5,548.9 L1923.0,550.3 L1924.5,551.6 L1926.0,553.0 L1927.5,554.3 L1929.0,555.7 L1930.5,557.1 L1932.0,558.5 L1933.5,559.9 L1935.0,561.3 L1936.5,562.8 L1938.0,564.2 L1939.5,565.6 L1941.0,567.1 L1942.5,568.5 L1944.0,570.0 L1945.5,571.5 L1947.0,573.0 L1948.5,574.4 L1950.0,575.9 L1951.5,577.4 L1953.0,579.0 L1954.5,580.5 L1956.0,582.0 L1957.5,583.6 L1959.0,585.1 L1960.5,586.7 L1962.0,588.2 L1963.5,589.8 L1965.0,591.4 L1966.5,593.0 L1968.0,594.6 L1969.5,596.2 L1971.0,597.8 L1972.5,599.4 L1974.0,601.1 L1975.5,602.8 L1977.0,604.4 L1978.5,606.1 L1980.0,607.9 L1981.5,609.6 L1983.0,611.4 L1984.5,613.1 L1986.0,615.0 L1987.5,616.8 L1989.0,618.6 L1990.5,620.5 L1992.0,622.4 L1993.5,624.3 L1995.0,626.3" fill="none" stroke="#008B00" stroke-width="3.8" stroke-linejoin="round" stroke-dasharray="22.6 9.4" clip-path="url(#clipR)"/>
<path d="M1167.0,395.8 L1168.5,395.6 L1170.0,395.3 L1171.5,395.0 L1173.0,394.8 L1174.5,394.5 L1176.0,394.3 L1177.5,394.0 L1179.0,393.8 L1180.5,393.6 L1182.0,393.3 L1183.5,393.1 L1185.0,392.9 L1186.5,392.7 L1188.0,392.5 L1189.5,392.3 L1191.0,392.1 L1192.5,391.9 L1194.0,391.7 L1195.5,391.6 L1197.0,391.4 L1198.5,391.2 L1200.0,391.1 L1201.5,390.9 L1203.0,390.8 L1204.5,390.6 L1206.0,390.5 L1207.5,390.3 L1209.0,390.2 L1210.5,390.1 L1212.0,390.0 L1213.5,389.9 L1215.0,389.8 L1216.5,389.7 L1218.0,389.6 L1219.5,389.5 L1221.0,389.4 L1222.5,389.3 L1224.0,389.2 L1225.5,389.2 L1227.0,389.1 L1228.5,389.0 L1230.0,389.0 L1231.5,388.9 L1233.0,388.9 L1234.5,388.8 L1236.0,388.8 L1237.5,388.7 L1239.0,388.7 L1240.5,388.7 L1242.0,388.7 L1243.5,388.6 L1245.0,388.6 L1246.5,388.6 L1248.0,388.6 L1249.5,388.6 L1251.0,388.6 L1252.5,388.6 L1254.0,388.6 L1255.5,388.7 L1257.0,388.7 L1258.5,388.7 L1260.0,388.7 L1261.5,388.8 L1263.0,388.8 L1264.5,388.8 L1266.0,388.9 L1267.5,388.9 L1269.0,389.0 L1270.5,389.0 L1272.0,389.1 L1273.5,389.2 L1275.0,389.2 L1276.5,389.3 L1278.0,389.4 L1279.5,389.4 L1281.0,389.5 L1282.5,389.6 L1284.0,389.7 L1285.5,389.8 L1287.0,389.9 L1288.5,390.0 L1290.0,390.1 L1291.5,390.2 L1293.0,390.3 L1294.5,390.4 L1296.0,390.5 L1297.5,390.6 L1299.0,390.8 L1300.5,390.9 L1302.0,391.0 L1303.5,391.1 L1305.0,391.3 L1306.5,391.4 L1308.0,391.5 L1309.5,391.7 L1311.0,391.8 L1312.5,392.0 L1314.0,392.1 L1315.5,392.3 L1317.0,392.4 L1318.5,392.6 L1320.0,392.8 L1321.5,392.9 L1323.0,393.1 L1324.5,393.3 L1326.0,393.4 L1327.5,393.6 L1329.0,393.8 L1330.5,394.0 L1332.0,394.1 L1333.5,394.3 L1335.0,394.5 L1336.5,394.7 L1338.0,394.9 L1339.5,395.1 L1341.0,395.3 L1342.5,395.5 L1344.0,395.7 L1345.5,395.9 L1347.0,396.1 L1348.5,396.3 L1350.0,396.5 L1351.5,396.7 L1353.0,396.9 L1354.5,397.1 L1356.0,397.3 L1357.5,397.5 L1359.0,397.8 L1360.5,398.0 L1362.0,398.2 L1363.5,398.4 L1365.0,398.6 L1366.5,398.9 L1368.0,399.1 L1369.5,399.3 L1371.0,399.6 L1372.5,399.8 L1374.0,400.0 L1375.5,400.3 L1377.0,400.5 L1378.5,400.7 L1380.0,401.0 L1381.5,401.2 L1383.0,401.5 L1384.5,401.7 L1386.0,401.9 L1387.5,402.2 L1389.0,402.4 L1390.5,402.7 L1392.0,402.9 L1393.5,403.2 L1395.0,403.4 L1396.5,403.7 L1398.0,403.9 L1399.5,404.2 L1401.0,404.4 L1402.5,404.7 L1404.0,404.9 L1405.5,405.2 L1407.0,405.5 L1408.5,405.7 L1410.0,406.0 L1411.5,406.2 L1413.0,406.5 L1414.5,406.7 L1416.0,407.0 L1417.5,407.3 L1419.0,407.5 L1420.5,407.8 L1422.0,408.0 L1423.5,408.3 L1425.0,408.6 L1426.5,408.8 L1428.0,409.1 L1429.5,409.4 L1431.0,409.6 L1432.5,409.9 L1434.0,410.2 L1435.5,410.4 L1437.0,410.7 L1438.5,411.0 L1440.0,411.2 L1441.5,411.5 L1443.0,411.8 L1444.5,412.0 L1446.0,412.3 L1447.5,412.6 L1449.0,412.8 L1450.5,413.1 L1452.0,413.4 L1453.5,413.6 L1455.0,413.9 L1456.5,414.2 L1458.0,414.4 L1459.5,414.7 L1461.0,415.0 L1462.5,415.2 L1464.0,415.5 L1465.5,415.8 L1467.0,416.1 L1468.5,416.3 L1470.0,416.6 L1471.5,416.9 L1473.0,417.1 L1474.5,417.4 L1476.0,417.7 L1477.5,417.9 L1479.0,418.2 L1480.5,418.5 L1482.0,418.8 L1483.5,419.0 L1485.0,419.3 L1486.5,419.6 L1488.0,419.8 L1489.5,420.1 L1491.0,420.4 L1492.5,420.7 L1494.0,420.9 L1495.5,421.2 L1497.0,421.5 L1498.5,421.7 L1500.0,422.0 L1501.5,422.3 L1503.0,422.6 L1504.5,422.8 L1506.0,423.1 L1507.5,423.4 L1509.0,423.6 L1510.5,423.9 L1512.0,424.2 L1513.5,424.4 L1515.0,424.7 L1516.5,425.0 L1518.0,425.3 L1519.5,425.5 L1521.0,425.8 L1522.5,426.1 L1524.0,426.3 L1525.5,426.6 L1527.0,426.9 L1528.5,427.1 L1530.0,427.4 L1531.5,427.7 L1533.0,427.9 L1534.5,428.2 L1536.0,428.5 L1537.5,428.7 L1539.0,429.0 L1540.5,429.3 L1542.0,429.5 L1543.5,429.8 L1545.0,430.0 L1546.5,430.3 L1548.0,430.6 L1549.5,430.8 L1551.0,431.1 L1552.5,431.4 L1554.0,431.6 L1555.5,431.9 L1557.0,432.1 L1558.5,432.4 L1560.0,432.7 L1561.5,432.9 L1563.0,433.2 L1564.5,433.4 L1566.0,433.7 L1567.5,433.9 L1569.0,434.2 L1570.5,434.4 L1572.0,434.7 L1573.5,435.0 L1575.0,435.2 L1576.5,435.5 L1578.0,435.7 L1579.5,436.0 L1581.0,436.2 L1582.5,436.5 L1584.0,436.7 L1585.5,437.0 L1587.0,437.2 L1588.5,437.5 L1590.0,437.7 L1591.5,438.0 L1593.0,438.2 L1594.5,438.4 L1596.0,438.7 L1597.5,438.9 L1599.0,439.2 L1600.5,439.4 L1602.0,439.7 L1603.5,439.9 L1605.0,440.1 L1606.5,440.4 L1608.0,440.6 L1609.5,440.8 L1611.0,441.1 L1612.5,441.3 L1614.0,441.5 L1615.5,441.8 L1617.0,442.0 L1618.5,442.2 L1620.0,442.5 L1621.5,442.7 L1623.0,442.9 L1624.5,443.2 L1626.0,443.4 L1627.5,443.6 L1629.0,443.8 L1630.5,444.1 L1632.0,444.3 L1633.5,444.5 L1635.0,444.8 L1636.5,445.0 L1638.0,445.2 L1639.5,445.4 L1641.0,445.7 L1642.5,445.9 L1644.0,446.1 L1645.5,446.3 L1647.0,446.6 L1648.5,446.8 L1650.0,447.0 L1651.5,447.3 L1653.0,447.5 L1654.5,447.7 L1656.0,447.9 L1657.5,448.2 L1659.0,448.4 L1660.5,448.6 L1662.0,448.9 L1663.5,449.1 L1665.0,449.3 L1666.5,449.6 L1668.0,449.8 L1669.5,450.0 L1671.0,450.3 L1672.5,450.5 L1674.0,450.8 L1675.5,451.0 L1677.0,451.2 L1678.5,451.5 L1680.0,451.7 L1681.5,452.0 L1683.0,452.2 L1684.5,452.5 L1686.0,452.7 L1687.5,453.0 L1689.0,453.2 L1690.5,453.5 L1692.0,453.8 L1693.5,454.0 L1695.0,454.3 L1696.5,454.5 L1698.0,454.8 L1699.5,455.1 L1701.0,455.3 L1702.5,455.6 L1704.0,455.9 L1705.5,456.2 L1707.0,456.4 L1708.5,456.7 L1710.0,457.0 L1711.5,457.3 L1713.0,457.6 L1714.5,457.9 L1716.0,458.2 L1717.5,458.4 L1719.0,458.7 L1720.5,459.0 L1722.0,459.3 L1723.5,459.7 L1725.0,460.0 L1726.5,460.3 L1728.0,460.6 L1729.5,460.9 L1731.0,461.2 L1732.5,461.6 L1734.0,461.9 L1735.5,462.2 L1737.0,462.5 L1738.5,462.9 L1740.0,463.2 L1741.5,463.6 L1743.0,463.9 L1744.5,464.3 L1746.0,464.6 L1747.5,465.0 L1749.0,465.3 L1750.5,465.7 L1752.0,466.1 L1753.5,466.4 L1755.0,466.8 L1756.5,467.2 L1758.0,467.6 L1759.5,468.0 L1761.0,468.4 L1762.5,468.8 L1764.0,469.2 L1765.5,469.6 L1767.0,470.0 L1768.5,470.4 L1770.0,470.8 L1771.5,471.3 L1773.0,471.7 L1774.5,472.1 L1776.0,472.6 L1777.5,473.0 L1779.0,473.5 L1780.5,474.0 L1782.0,474.4 L1783.5,474.9 L1785.0,475.4 L1786.5,475.9 L1788.0,476.4 L1789.5,476.9 L1791.0,477.4 L1792.5,477.9 L1794.0,478.5 L1795.5,479.0 L1797.0,479.5 L1798.5,480.1 L1800.0,480.6 L1801.5,481.2 L1803.0,481.8 L1804.5,482.3 L1806.0,482.9 L1807.5,483.5 L1809.0,484.1 L1810.5,484.7 L1812.0,485.4 L1813.5,486.0 L1815.0,486.6 L1816.5,487.3 L1818.0,487.9 L1819.5,488.6 L1821.0,489.3 L1822.5,489.9 L1824.0,490.6 L1825.5,491.3 L1827.0,492.0 L1828.5,492.8 L1830.0,493.5 L1831.5,494.2 L1833.0,495.0 L1834.5,495.7 L1836.0,496.5 L1837.5,497.3 L1839.0,498.1 L1840.5,498.9 L1842.0,499.7 L1843.5,500.5 L1845.0,501.3 L1846.5,502.2 L1848.0,503.0 L1849.5,503.9 L1851.0,504.8 L1852.5,505.7 L1854.0,506.6 L1855.5,507.5 L1857.0,508.4 L1858.5,509.3 L1860.0,510.3 L1861.5,511.2 L1863.0,512.2 L1864.5,513.2 L1866.0,514.1 L1867.5,515.1 L1869.0,516.2 L1870.5,517.2 L1872.0,518.2 L1873.5,519.2 L1875.0,520.3 L1876.5,521.3 L1878.0,522.4 L1879.5,523.5 L1881.0,524.6 L1882.5,525.7 L1884.0,526.8 L1885.5,527.9 L1887.0,529.0 L1888.5,530.1 L1890.0,531.3 L1891.5,532.4 L1893.0,533.6 L1894.5,534.7 L1896.0,535.9 L1897.5,537.1 L1899.0,538.3 L1900.5,539.5 L1902.0,540.7 L1903.5,541.9 L1905.0,543.2 L1906.5,544.4 L1908.0,545.6 L1909.5,546.9 L1911.0,548.2 L1912.5,549.4 L1914.0,550.7 L1915.5,552.0 L1917.0,553.3 L1918.5,554.6 L1920.0,555.9 L1921.5,557.2 L1923.0,558.5 L1924.5,559.8 L1926.0,561.2 L1927.5,562.5 L1929.0,563.9 L1930.5,565.2 L1932.0,566.6 L1933.5,568.0 L1935.0,569.3 L1936.5,570.7 L1938.0,572.1 L1939.5,573.5 L1941.0,574.9 L1942.5,576.3 L1944.0,577.8 L1945.5,579.2 L1947.0,580.6 L1948.5,582.1 L1950.0,583.5 L1951.5,585.0 L1953.0,586.5 L1954.5,588.0 L1956.0,589.5 L1957.5,591.0 L1959.0,592.5 L1960.5,594.0 L1962.0,595.6 L1963.5,597.1 L1965.0,598.7 L1966.5,600.3 L1968.0,601.9 L1969.5,603.5 L1971.0,605.1 L1972.5,606.8 L1974.0,608.4 L1975.5,610.1 L1977.0,611.8 L1978.5,613.5 L1980.0,615.2 L1981.5,617.0 L1983.0,618.8 L1984.5,620.5 L1986.0,622.3 L1987.5,624.2 L1989.0,626.0" fill="none" stroke="#FF0000" stroke-width="3.8" stroke-linejoin="round" stroke-dasharray="3.8 8.95 22.9 9.2" clip-path="url(#clipR)"/>
<path d="M1167.0,402.1 L1168.5,401.8 L1170.0,401.6 L1171.5,401.3 L1173.0,401.0 L1174.5,400.8 L1176.0,400.6 L1177.5,400.3 L1179.0,400.1 L1180.5,399.9 L1182.0,399.6 L1183.5,399.4 L1185.0,399.2 L1186.5,399.0 L1188.0,398.8 L1189.5,398.6 L1191.0,398.4 L1192.5,398.3 L1194.0,398.1 L1195.5,397.9 L1197.0,397.8 L1198.5,397.6 L1200.0,397.4 L1201.5,397.3 L1203.0,397.2 L1204.5,397.0 L1206.0,396.9 L1207.5,396.8 L1209.1,396.6 L1210.6,396.5 L1212.1,396.4 L1213.6,396.3 L1215.1,396.2 L1216.6,396.1 L1218.1,396.0 L1219.6,395.9 L1221.1,395.8 L1222.6,395.8 L1224.1,395.7 L1225.6,395.6 L1227.1,395.6 L1228.6,395.5 L1230.1,395.4 L1231.6,395.4 L1233.1,395.4 L1234.6,395.3 L1236.1,395.3 L1237.6,395.2 L1239.1,395.2 L1240.6,395.2 L1242.1,395.2 L1243.6,395.2 L1245.1,395.2 L1246.6,395.2 L1248.1,395.2 L1249.6,395.2 L1251.1,395.2 L1252.6,395.2 L1254.1,395.2 L1255.6,395.2 L1257.1,395.2 L1258.6,395.3 L1260.1,395.3 L1261.6,395.3 L1263.1,395.4 L1264.6,395.4 L1266.1,395.5 L1267.6,395.5 L1269.1,395.6 L1270.6,395.6 L1272.1,395.7 L1273.6,395.8 L1275.1,395.8 L1276.6,395.9 L1278.1,396.0 L1279.6,396.1 L1281.1,396.2 L1282.6,396.2 L1284.1,396.3 L1285.6,396.4 L1287.1,396.5 L1288.6,396.6 L1290.2,396.7 L1291.7,396.8 L1293.2,396.9 L1294.7,397.1 L1296.2,397.2 L1297.7,397.3 L1299.2,397.4 L1300.7,397.5 L1302.2,397.7 L1303.7,397.8 L1305.2,397.9 L1306.7,398.1 L1308.2,398.2 L1309.7,398.4 L1311.2,398.5 L1312.7,398.7 L1314.2,398.8 L1315.7,399.0 L1317.2,399.1 L1318.7,399.3 L1320.2,399.5 L1321.7,399.6 L1323.2,399.8 L1324.7,400.0 L1326.2,400.1 L1327.7,400.3 L1329.2,400.5 L1330.7,400.7 L1332.2,400.8 L1333.7,401.0 L1335.2,401.2 L1336.7,401.4 L1338.2,401.6 L1339.7,401.8 L1341.2,402.0 L1342.7,402.2 L1344.2,402.4 L1345.7,402.6 L1347.2,402.8 L1348.7,403.0 L1350.2,403.2 L1351.7,403.4 L1353.2,403.6 L1354.7,403.8 L1356.2,404.0 L1357.7,404.2 L1359.2,404.5 L1360.7,404.7 L1362.2,404.9 L1363.7,405.1 L1365.2,405.3 L1366.7,405.6 L1368.2,405.8 L1369.7,406.0 L1371.2,406.3 L1372.8,406.5 L1374.3,406.7 L1375.8,407.0 L1377.3,407.2 L1378.8,407.4 L1380.3,407.7 L1381.8,407.9 L1383.3,408.1 L1384.8,408.4 L1386.3,408.6 L1387.8,408.9 L1389.3,409.1 L1390.8,409.3 L1392.3,409.6 L1393.8,409.8 L1395.3,410.1 L1396.8,410.3 L1398.3,410.6 L1399.8,410.8 L1401.3,411.1 L1402.8,411.3 L1404.3,411.6 L1405.8,411.8 L1407.3,412.1 L1408.8,412.3 L1410.3,412.6 L1411.8,412.8 L1413.3,413.1 L1414.8,413.4 L1416.3,413.6 L1417.8,413.9 L1419.3,414.1 L1420.8,414.4 L1422.3,414.6 L1423.8,414.9 L1425.3,415.1 L1426.8,415.4 L1428.3,415.7 L1429.8,415.9 L1431.3,416.2 L1432.8,416.4 L1434.3,416.7 L1435.8,417.0 L1437.3,417.2 L1438.8,417.5 L1440.3,417.7 L1441.8,418.0 L1443.3,418.3 L1444.8,418.5 L1446.3,418.8 L1447.8,419.0 L1449.3,419.3 L1450.8,419.6 L1452.3,419.8 L1453.8,420.1 L1455.4,420.3 L1456.9,420.6 L1458.4,420.9 L1459.9,421.1 L1461.4,421.4 L1462.9,421.7 L1464.4,421.9 L1465.9,422.2 L1467.4,422.4 L1468.9,422.7 L1470.4,423.0 L1471.9,423.2 L1473.4,423.5 L1474.9,423.8 L1476.4,424.0 L1477.9,424.3 L1479.4,424.5 L1480.9,424.8 L1482.4,425.1 L1483.9,425.3 L1485.4,425.6 L1486.9,425.9 L1488.4,426.1 L1489.9,426.4 L1491.4,426.6 L1492.9,426.9 L1494.4,427.2 L1495.9,427.4 L1497.4,427.7 L1498.9,428.0 L1500.4,428.2 L1501.9,428.5 L1503.4,428.7 L1504.9,429.0 L1506.4,429.3 L1507.9,429.5 L1509.4,429.8 L1510.9,430.0 L1512.4,430.3 L1513.9,430.5 L1515.4,430.8 L1516.9,431.1 L1518.4,431.3 L1519.9,431.6 L1521.4,431.8 L1522.9,432.1 L1524.4,432.3 L1525.9,432.6 L1527.4,432.9 L1528.9,433.1 L1530.4,433.4 L1531.9,433.6 L1533.4,433.9 L1534.9,434.1 L1536.5,434.4 L1538.0,434.6 L1539.5,434.9 L1541.0,435.1 L1542.5,435.4 L1544.0,435.6 L1545.5,435.9 L1547.0,436.1 L1548.5,436.4 L1550.0,436.6 L1551.5,436.9 L1553.0,437.1 L1554.5,437.4 L1556.0,437.6 L1557.5,437.9 L1559.0,438.1 L1560.5,438.4 L1562.0,438.6 L1563.5,438.8 L1565.0,439.1 L1566.5,439.3 L1568.0,439.6 L1569.5,439.8 L1571.0,440.0 L1572.5,440.3 L1574.0,440.5 L1575.5,440.8 L1577.0,441.0 L1578.5,441.2 L1580.0,441.5 L1581.5,441.7 L1583.0,441.9 L1584.5,442.2 L1586.0,442.4 L1587.5,442.6 L1589.0,442.9 L1590.5,443.1 L1592.0,443.3 L1593.5,443.5 L1595.0,443.8 L1596.5,444.0 L1598.0,444.2 L1599.5,444.4 L1601.0,444.7 L1602.5,444.9 L1604.0,445.1 L1605.5,445.3 L1607.0,445.5 L1608.5,445.8 L1610.0,446.0 L1611.5,446.2 L1613.0,446.4 L1614.5,446.6 L1616.0,446.8 L1617.5,447.0 L1619.1,447.3 L1620.6,447.5 L1622.1,447.7 L1623.6,447.9 L1625.1,448.1 L1626.6,448.3 L1628.1,448.5 L1629.6,448.7 L1631.1,448.9 L1632.6,449.1 L1634.1,449.3 L1635.6,449.5 L1637.1,449.7 L1638.6,450.0 L1640.1,450.2 L1641.6,450.4 L1643.1,450.6 L1644.6,450.8 L1646.1,451.0 L1647.6,451.2 L1649.1,451.4 L1650.6,451.6 L1652.1,451.8 L1653.6,452.0 L1655.1,452.2 L1656.6,452.4 L1658.1,452.7 L1659.6,452.9 L1661.1,453.1 L1662.6,453.3 L1664.1,453.5 L1665.6,453.7 L1667.1,453.9 L1668.6,454.2 L1670.1,454.4 L1671.6,454.6 L1673.1,454.8 L1674.6,455.0 L1676.1,455.3 L1677.6,455.5 L1679.1,455.7 L1680.6,455.9 L1682.1,456.2 L1683.6,456.4 L1685.1,456.6 L1686.6,456.9 L1688.1,457.1 L1689.6,457.4 L1691.1,457.6 L1692.6,457.8 L1694.1,458.1 L1695.6,458.3 L1697.1,458.6 L1698.6,458.8 L1700.2,459.1 L1701.7,459.4 L1703.2,459.6 L1704.7,459.9 L1706.2,460.1 L1707.7,460.4 L1709.2,460.7 L1710.7,461.0 L1712.2,461.2 L1713.7,461.5 L1715.2,461.8 L1716.7,462.1 L1718.2,462.4 L1719.7,462.7 L1721.2,463.0 L1722.7,463.3 L1724.2,463.6 L1725.7,463.9 L1727.2,464.2 L1728.7,464.5 L1730.2,464.8 L1731.7,465.1 L1733.2,465.4 L1734.7,465.8 L1736.2,466.1 L1737.7,466.4 L1739.2,466.8 L1740.7,467.1 L1742.2,467.5 L1743.7,467.8 L1745.2,468.2 L1746.7,468.5 L1748.2,468.9 L1749.7,469.3 L1751.2,469.6 L1752.7,470.0 L1754.2,470.4 L1755.7,470.8 L1757.2,471.2 L1758.7,471.6 L1760.2,472.0 L1761.7,472.4 L1763.2,472.8 L1764.7,473.2 L1766.2,473.7 L1767.7,474.1 L1769.2,474.5 L1770.7,475.0 L1772.2,475.4 L1773.7,475.9 L1775.2,476.3 L1776.7,476.8 L1778.2,477.3 L1779.7,477.7 L1781.2,478.2 L1782.8,478.7 L1784.3,479.2 L1785.8,479.7 L1787.3,480.2 L1788.8,480.7 L1790.3,481.3 L1791.8,481.8 L1793.3,482.3 L1794.8,482.9 L1796.3,483.4 L1797.8,484.0 L1799.3,484.5 L1800.8,485.1 L1802.3,485.7 L1803.8,486.3 L1805.3,486.8 L1806.8,487.4 L1808.3,488.1 L1809.8,488.7 L1811.3,489.3 L1812.8,489.9 L1814.3,490.6 L1815.8,491.2 L1817.3,491.9 L1818.8,492.5 L1820.3,493.2 L1821.8,493.9 L1823.3,494.6 L1824.8,495.2 L1826.3,495.9 L1827.8,496.7 L1829.3,497.4 L1830.8,498.1 L1832.3,498.8 L1833.8,499.6 L1835.3,500.3 L1836.8,501.1 L1838.3,501.9 L1839.8,502.6 L1841.3,503.4 L1842.8,504.2 L1844.3,505.0 L1845.8,505.9 L1847.3,506.7 L1848.8,507.5 L1850.3,508.3 L1851.8,509.2 L1853.3,510.1 L1854.8,510.9 L1856.3,511.8 L1857.8,512.7 L1859.3,513.6 L1860.8,514.5 L1862.3,515.4 L1863.8,516.3 L1865.4,517.3 L1866.9,518.2 L1868.4,519.2 L1869.9,520.1 L1871.4,521.1 L1872.9,522.1 L1874.4,523.1 L1875.9,524.1 L1877.4,525.1 L1878.9,526.1 L1880.4,527.1 L1881.9,528.1 L1883.4,529.2 L1884.9,530.2 L1886.4,531.3 L1887.9,532.4 L1889.4,533.5 L1890.9,534.6 L1892.4,535.7 L1893.9,536.8 L1895.4,537.9 L1896.9,539.1 L1898.4,540.2 L1899.9,541.4 L1901.4,542.5 L1902.9,543.7 L1904.4,544.9 L1905.9,546.1 L1907.4,547.3 L1908.9,548.5 L1910.4,549.8 L1911.9,551.0 L1913.4,552.2 L1914.9,553.5 L1916.4,554.8 L1917.9,556.1 L1919.4,557.3 L1920.9,558.7 L1922.4,560.0 L1923.9,561.3 L1925.4,562.6 L1926.9,564.0 L1928.4,565.3 L1929.9,566.7 L1931.4,568.1 L1932.9,569.5 L1934.4,570.9 L1935.9,572.3 L1937.4,573.7 L1938.9,575.1 L1940.4,576.6 L1941.9,578.0 L1943.4,579.5 L1944.9,581.0 L1946.5,582.5 L1948.0,584.0 L1949.5,585.5 L1951.0,587.0 L1952.5,588.6 L1954.0,590.1 L1955.5,591.7 L1957.0,593.2 L1958.5,594.8 L1960.0,596.4 L1961.5,598.0 L1963.0,599.6 L1964.5,601.3 L1966.0,602.9 L1967.5,604.6 L1969.0,606.2 L1970.5,607.9 L1972.0,609.6 L1973.5,611.3 L1975.0,613.0 L1976.5,614.7 L1978.0,616.5 L1979.5,618.2 L1981.0,620.0 L1982.5,621.8 L1984.0,623.6 L1985.5,625.4 L1987.0,627.2" fill="none" stroke="#0000FF" stroke-width="3.7" stroke-linejoin="round" stroke-dasharray="3.6 9.2 16.5 9.2 3.6 9.2" clip-path="url(#clipR)"/>
<path d="M1167.1,20.1V621.8M1165.8999999999999,21.3H2025.1" stroke="#000" stroke-width="2.4" fill="none"/>
<path d="M2024.1,20.1V621.8M1165.8999999999999,620.8H2025.1" stroke="#000" stroke-width="2.0" fill="none"/>
<path d="M1231.5,620.6v-8.5M1231.5,21.2v8.5M1269.2,620.6v-8.5M1269.2,21.2v8.5M1296.0,620.6v-8.5M1296.0,21.2v8.5M1316.8,620.6v-8.5M1316.8,21.2v8.5M1333.7,620.6v-8.5M1333.7,21.2v8.5M1348.1,620.6v-8.5M1348.1,21.2v8.5M1360.5,620.6v-8.5M1360.5,21.2v8.5M1371.5,620.6v-8.5M1371.5,21.2v8.5M1381.3,620.6v-17.3M1381.3,21.2v17.3M1445.8,620.6v-8.5M1445.8,21.2v8.5M1483.5,620.6v-8.5M1483.5,21.2v8.5M1510.3,620.6v-8.5M1510.3,21.2v8.5M1531.0,620.6v-8.5M1531.0,21.2v8.5M1548.0,620.6v-8.5M1548.0,21.2v8.5M1562.4,620.6v-8.5M1562.4,21.2v8.5M1574.8,620.6v-8.5M1574.8,21.2v8.5M1585.7,620.6v-8.5M1585.7,21.2v8.5M1595.5,620.6v-17.3M1595.5,21.2v17.3M1660.1,620.6v-8.5M1660.1,21.2v8.5M1697.8,620.6v-8.5M1697.8,21.2v8.5M1724.6,620.6v-8.5M1724.6,21.2v8.5M1745.3,620.6v-8.5M1745.3,21.2v8.5M1762.3,620.6v-8.5M1762.3,21.2v8.5M1776.6,620.6v-8.5M1776.6,21.2v8.5M1789.1,620.6v-8.5M1789.1,21.2v8.5M1800.0,620.6v-8.5M1800.0,21.2v8.5M1809.8,620.6v-17.3M1809.8,21.2v17.3M1874.3,620.6v-8.5M1874.3,21.2v8.5M1912.1,620.6v-8.5M1912.1,21.2v8.5M1938.8,620.6v-8.5M1938.8,21.2v8.5M1959.6,620.6v-8.5M1959.6,21.2v8.5M1976.6,620.6v-8.5M1976.6,21.2v8.5M1990.9,620.6v-8.5M1990.9,21.2v8.5M2003.3,620.6v-8.5M2003.3,21.2v8.5M2014.3,620.6v-8.5M2014.3,21.2v8.5M1167.0,141.1h17.3M2024.1,141.1h-17.3M1167.0,105.0h8.5M2024.1,105.0h-8.5M1167.0,83.9h8.5M2024.1,83.9h-8.5M1167.0,68.9h8.5M2024.1,68.9h-8.5M1167.0,57.3h8.5M2024.1,57.3h-8.5M1167.0,47.8h8.5M2024.1,47.8h-8.5M1167.0,39.8h8.5M2024.1,39.8h-8.5M1167.0,32.8h8.5M2024.1,32.8h-8.5M1167.0,26.7h8.5M2024.1,26.7h-8.5M1167.0,261.0h17.3M2024.1,261.0h-17.3M1167.0,224.9h8.5M2024.1,224.9h-8.5M1167.0,203.8h8.5M2024.1,203.8h-8.5M1167.0,188.8h8.5M2024.1,188.8h-8.5M1167.0,177.2h8.5M2024.1,177.2h-8.5M1167.0,167.7h8.5M2024.1,167.7h-8.5M1167.0,159.6h8.5M2024.1,159.6h-8.5M1167.0,152.7h8.5M2024.1,152.7h-8.5M1167.0,146.6h8.5M2024.1,146.6h-8.5M1167.0,380.8h17.3M2024.1,380.8h-17.3M1167.0,344.8h8.5M2024.1,344.8h-8.5M1167.0,323.6h8.5M2024.1,323.6h-8.5M1167.0,308.7h8.5M2024.1,308.7h-8.5M1167.0,297.0h8.5M2024.1,297.0h-8.5M1167.0,287.6h8.5M2024.1,287.6h-8.5M1167.0,279.5h8.5M2024.1,279.5h-8.5M1167.0,272.6h8.5M2024.1,272.6h-8.5M1167.0,266.4h8.5M2024.1,266.4h-8.5M1167.0,500.7h17.3M2024.1,500.7h-17.3M1167.0,464.6h8.5M2024.1,464.6h-8.5M1167.0,443.5h8.5M2024.1,443.5h-8.5M1167.0,428.5h8.5M2024.1,428.5h-8.5M1167.0,416.9h8.5M2024.1,416.9h-8.5M1167.0,407.4h8.5M2024.1,407.4h-8.5M1167.0,399.4h8.5M2024.1,399.4h-8.5M1167.0,392.5h8.5M2024.1,392.5h-8.5M1167.0,386.3h8.5M2024.1,386.3h-8.5M1167.0,584.5h8.5M2024.1,584.5h-8.5M1167.0,563.4h8.5M2024.1,563.4h-8.5M1167.0,548.4h8.5M2024.1,548.4h-8.5M1167.0,536.8h8.5M2024.1,536.8h-8.5M1167.0,527.3h8.5M2024.1,527.3h-8.5M1167.0,519.3h8.5M2024.1,519.3h-8.5M1167.0,512.3h8.5M2024.1,512.3h-8.5M1167.0,506.2h8.5M2024.1,506.2h-8.5" stroke="#000" stroke-width="2.0" fill="none"/>
<line x1="1483.5" y1="18.7" x2="1483.5" y2="617.5" stroke="#40E0D0" stroke-width="4.8" stroke-dasharray="4.7 13.37"/>
<text x="107.9" y="667.1" style="font-family:'Liberation Serif','Times New Roman',serif;font-size:32px">10<tspan dx="1.5" dy="-15.0" style="font-size:25px">5</tspan></text>
<text x="322.1" y="667.1" style="font-family:'Liberation Serif','Times New Roman',serif;font-size:32px">10<tspan dx="1.5" dy="-15.0" style="font-size:25px">6</tspan></text>
<text x="536.3" y="667.1" style="font-family:'Liberation Serif','Times New Roman',serif;font-size:32px">10<tspan dx="1.5" dy="-15.0" style="font-size:25px">7</tspan></text>
<text x="750.4" y="667.1" style="font-family:'Liberation Serif','Times New Roman',serif;font-size:32px">10<tspan dx="1.5" dy="-15.0" style="font-size:25px">8</tspan></text>
<text x="953.2" y="667.1" style="font-family:'Liberation Serif','Times New Roman',serif;font-size:32px">10<tspan dx="1.5" dy="-15.0" style="font-size:25px">9</tspan></text>
<text x="1146.8" y="665.9" style="font-family:'Liberation Serif','Times New Roman',serif;font-size:32px">10<tspan dx="1.5" dy="-17.0" style="font-size:25px">5</tspan></text>
<text x="1361.1" y="665.9" style="font-family:'Liberation Serif','Times New Roman',serif;font-size:32px">10<tspan dx="1.5" dy="-17.0" style="font-size:25px">6</tspan></text>
<text x="1575.3" y="665.9" style="font-family:'Liberation Serif','Times New Roman',serif;font-size:32px">10<tspan dx="1.5" dy="-17.0" style="font-size:25px">7</tspan></text>
<text x="1789.6" y="665.9" style="font-family:'Liberation Serif','Times New Roman',serif;font-size:32px">10<tspan dx="1.5" dy="-17.0" style="font-size:25px">8</tspan></text>
<text x="1986.5" y="665.9" style="font-family:'Liberation Serif','Times New Roman',serif;font-size:32px">10<tspan dx="1.5" dy="-17.0" style="font-size:25px">9</tspan></text>
<text x="71.9" y="35.2" style="font-family:'Liberation Serif','Times New Roman',serif;font-size:32px">10<tspan dy="-15" style="font-size:24px">0</tspan></text>
<text x="67.1" y="155.0" style="font-family:'Liberation Serif','Times New Roman',serif;font-size:32px">10<tspan dy="-15" style="font-size:24px">-1</tspan></text>
<text x="67.1" y="275.0" style="font-family:'Liberation Serif','Times New Roman',serif;font-size:32px">10<tspan dy="-15" style="font-size:24px">-2</tspan></text>
<text x="67.1" y="394.8" style="font-family:'Liberation Serif','Times New Roman',serif;font-size:32px">10<tspan dy="-15" style="font-size:24px">-3</tspan></text>
<text x="67.1" y="515.1" style="font-family:'Liberation Serif','Times New Roman',serif;font-size:32px">10<tspan dy="-15" style="font-size:24px">-4</tspan></text>
<text x="67.1" y="627.0" style="font-family:'Liberation Serif','Times New Roman',serif;font-size:32px">10<tspan dy="-15" style="font-size:24px">-5</tspan></text>
<text x="1111.9" y="34.2" style="font-family:'Liberation Serif','Times New Roman',serif;font-size:32px">10<tspan dy="-15" style="font-size:24px">0</tspan></text>
<text x="1107.1" y="153.9" style="font-family:'Liberation Serif','Times New Roman',serif;font-size:32px">10<tspan dy="-15" style="font-size:24px">-1</tspan></text>
<text x="1107.1" y="272.8" style="font-family:'Liberation Serif','Times New Roman',serif;font-size:32px">10<tspan dy="-15" style="font-size:24px">-2</tspan></text>
<text x="1107.1" y="393.7" style="font-family:'Liberation Serif','Times New Roman',serif;font-size:32px">10<tspan dy="-15" style="font-size:24px">-3</tspan></text>
<text x="1107.1" y="513.8" style="font-family:'Liberation Serif','Times New Roman',serif;font-size:32px">10<tspan dy="-15" style="font-size:24px">-4</tspan></text>
<text x="1107.1" y="633.9" style="font-family:'Liberation Serif','Times New Roman',serif;font-size:32px">10<tspan dy="-15" style="font-size:24px">-5</tspan></text>
<text x="558.5" y="714.7" text-anchor="middle"><tspan style="font-family:'Liberation Serif','Times New Roman',serif;font-size:35.5px">E</tspan><tspan dy="15" style="font-family:'Liberation Serif','Times New Roman',serif;font-size:27px">ν</tspan><tspan dy="-15" style="font-family:'Liberation Sans',Arial,Helvetica,sans-serif;font-size:37px"> (GeV)</tspan></text>
<text x="1597.5" y="714.7" text-anchor="middle"><tspan style="font-family:'Liberation Serif','Times New Roman',serif;font-size:35.5px">E</tspan><tspan dy="15" style="font-family:'Liberation Serif','Times New Roman',serif;font-size:27px">ν</tspan><tspan dy="-15" style="font-family:'Liberation Sans',Arial,Helvetica,sans-serif;font-size:37px"> (GeV)</tspan></text>
<text transform="translate(36.3,474.5) rotate(-90)" x="0" y="0" xml:space="preserve"><tspan style="font-family:'Liberation Serif','Times New Roman',serif;font-size:31px">E</tspan><tspan dx="0" dy="-18" style="font-family:'Liberation Serif','Times New Roman',serif;font-size:20.5px">3</tspan><tspan dx="0" dy="18" style="font-family:'Liberation Serif','Times New Roman',serif;font-size:31px">Φ</tspan><tspan dx="0" dy="11.5" style="font-family:'Liberation Serif','Times New Roman',serif;font-size:20px">ν</tspan><tspan dx="0.5" dy="-11.5" style="font-family:'Liberation Sans',Arial,Helvetica,sans-serif;font-size:31px">[GeV</tspan><tspan dx="0" dy="-18" style="font-family:'Liberation Sans',Arial,Helvetica,sans-serif;font-size:20.5px">2</tspan><tspan dx="-0.5" dy="18" style="font-family:'Liberation Sans',Arial,Helvetica,sans-serif;font-size:31px"> cm</tspan><tspan dx="0" dy="-18" style="font-family:'Liberation Sans',Arial,Helvetica,sans-serif;font-size:20.5px">-2</tspan><tspan dx="0" dy="18" style="font-family:'Liberation Sans',Arial,Helvetica,sans-serif;font-size:31px"> s</tspan><tspan dx="-1" dy="-18" style="font-family:'Liberation Sans',Arial,Helvetica,sans-serif;font-size:20.5px">-1</tspan><tspan dx="-1" dy="18" style="font-family:'Liberation Sans',Arial,Helvetica,sans-serif;font-size:31px"> sr</tspan><tspan dx="-2.5" dy="-18" style="font-family:'Liberation Sans',Arial,Helvetica,sans-serif;font-size:20.5px">-1</tspan><tspan dx="2.8" dy="18" style="font-family:'Liberation Sans',Arial,Helvetica,sans-serif;font-size:31px">]</tspan></text>
<text transform="translate(1075.3,474.5) rotate(-90)" x="0" y="0" xml:space="preserve"><tspan style="font-family:'Liberation Serif','Times New Roman',serif;font-size:31px">E</tspan><tspan dx="0" dy="-18" style="font-family:'Liberation Serif','Times New Roman',serif;font-size:20.5px">3</tspan><tspan dx="0" dy="18" style="font-family:'Liberation Serif','Times New Roman',serif;font-size:31px">Φ</tspan><tspan dx="0" dy="11.5" style="font-family:'Liberation Serif','Times New Roman',serif;font-size:20px">ν</tspan><tspan dx="0.5" dy="-11.5" style="font-family:'Liberation Sans',Arial,Helvetica,sans-serif;font-size:31px">[GeV</tspan><tspan dx="0" dy="-18" style="font-family:'Liberation Sans',Arial,Helvetica,sans-serif;font-size:20.5px">2</tspan><tspan dx="-0.5" dy="18" style="font-family:'Liberation Sans',Arial,Helvetica,sans-serif;font-size:31px"> cm</tspan><tspan dx="0" dy="-18" style="font-family:'Liberation Sans',Arial,Helvetica,sans-serif;font-size:20.5px">-2</tspan><tspan dx="0" dy="18" style="font-family:'Liberation Sans',Arial,Helvetica,sans-serif;font-size:31px"> s</tspan><tspan dx="-1" dy="-18" style="font-family:'Liberation Sans',Arial,Helvetica,sans-serif;font-size:20.5px">-1</tspan><tspan dx="-1" dy="18" style="font-family:'Liberation Sans',Arial,Helvetica,sans-serif;font-size:31px"> sr</tspan><tspan dx="-2.5" dy="-18" style="font-family:'Liberation Sans',Arial,Helvetica,sans-serif;font-size:20.5px">-1</tspan><tspan dx="2.8" dy="18" style="font-family:'Liberation Sans',Arial,Helvetica,sans-serif;font-size:31px">]</tspan></text>
<text x="212.8" y="103.9" style="font-family:'Liberation Sans',Arial,Helvetica,sans-serif;font-weight:bold;font-size:36px" fill="#FFA500">IceCube</text>
<text x="1251.8" y="103.9" style="font-family:'Liberation Sans',Arial,Helvetica,sans-serif;font-weight:bold;font-size:36px" fill="#FFA500">IceCube</text>
<text x="167.3" y="579.9" style="font-family:'Liberation Sans',Arial,Helvetica,sans-serif;font-weight:bold;font-size:36px" fill="#0000FF">BPL</text>
<text x="1210.5" y="576.9" style="font-family:'Liberation Sans',Arial,Helvetica,sans-serif;font-weight:bold;font-size:36px" fill="#0000FF">H3a</text>
<rect x="537.5" y="97.8" width="340.5" height="163.4" fill="#fff" stroke="#000" stroke-width="1.7"/>
<line x1="549.5" y1="116.0" x2="685.3" y2="116.0" stroke="#000000" stroke-width="3.6"/>
<text x="704.6" y="124.9" style="font-family:'Liberation Serif','Times New Roman',serif;font-size:27px;white-space:pre" xml:space="preserve">MFEK</text>
<line x1="549.5" y1="143.3" x2="685.3" y2="143.3" stroke="#FFA500" stroke-width="6.0" stroke-dasharray="6.1 17.1"/>
<text x="704.6" y="152.6" style="font-family:'Liberation Serif','Times New Roman',serif;font-size:27px;white-space:pre" xml:space="preserve">EMM</text>
<line x1="549.5" y1="174.0" x2="685.3" y2="174.0" stroke="#008B00" stroke-width="3.8" stroke-dasharray="25.4 10.6"/>
<text x="704.6" y="180.8" style="font-family:'Liberation Serif','Times New Roman',serif;font-size:27px;white-space:pre" xml:space="preserve">QGSJET  01</text>
<line x1="549.5" y1="206.7" x2="685.3" y2="206.7" stroke="#FF0000" stroke-width="3.9" stroke-dasharray="4.3 10.1 25.9 10.4"/>
<text x="704.6" y="212.7" style="font-family:'Liberation Serif','Times New Roman',serif;font-size:27px;white-space:pre" xml:space="preserve">QGSJETII - 03</text>
<line x1="549.5" y1="239.8" x2="685.3" y2="239.8" stroke="#0000FF" stroke-width="3.7" stroke-dasharray="4.0 10.4 18.6 10.4 4.0 10.4"/>
<text x="704.6" y="246.9" style="font-family:'Liberation Serif','Times New Roman',serif;font-size:27px;white-space:pre" xml:space="preserve">Sibyll 2.1</text>
<rect x="1576.3" y="97.8" width="340.5" height="163.4" fill="#fff" stroke="#000" stroke-width="1.7"/>
<line x1="1588.3" y1="116.0" x2="1724.1" y2="116.0" stroke="#000000" stroke-width="3.6"/>
<text x="1743.4" y="124.9" style="font-family:'Liberation Serif','Times New Roman',serif;font-size:27px;white-space:pre" xml:space="preserve">MFEK</text>
<line x1="1588.3" y1="143.3" x2="1724.1" y2="143.3" stroke="#FFA500" stroke-width="6.0" stroke-dasharray="6.1 17.1"/>
<text x="1743.4" y="152.6" style="font-family:'Liberation Serif','Times New Roman',serif;font-size:27px;white-space:pre" xml:space="preserve">EMM</text>
<line x1="1588.3" y1="174.0" x2="1724.1" y2="174.0" stroke="#008B00" stroke-width="3.8" stroke-dasharray="25.4 10.6"/>
<text x="1743.4" y="180.8" style="font-family:'Liberation Serif','Times New Roman',serif;font-size:27px;white-space:pre" xml:space="preserve">QGSJET 01</text>
<line x1="1588.3" y1="206.7" x2="1724.1" y2="206.7" stroke="#FF0000" stroke-width="3.9" stroke-dasharray="4.3 10.1 25.9 10.4"/>
<text x="1743.4" y="212.7" style="font-family:'Liberation Serif','Times New Roman',serif;font-size:27px;white-space:pre" xml:space="preserve">QGSJETII - 03</text>
<line x1="1588.3" y1="239.8" x2="1724.1" y2="239.8" stroke="#0000FF" stroke-width="3.7" stroke-dasharray="4.0 10.4 18.6 10.4 4.0 10.4"/>
<text x="1743.4" y="246.9" style="font-family:'Liberation Serif','Times New Roman',serif;font-size:27px;white-space:pre" xml:space="preserve">Sibyll 2.1</text>
</svg>
</body></html>
